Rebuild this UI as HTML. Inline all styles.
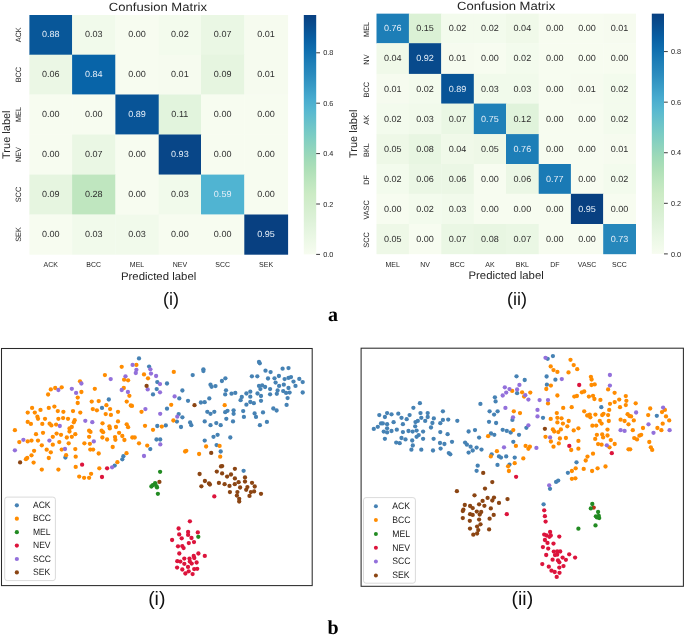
<!DOCTYPE html>
<html><head><meta charset="utf-8"><style>
html,body{margin:0;padding:0;background:#fff;overflow:hidden;}
svg{display:block;will-change:transform;} text{text-rendering:geometricPrecision;}
</style></head><body>
<svg width="685" height="635" viewBox="0 0 685 635" font-family='"Liberation Sans", sans-serif'>
<rect x="0" y="0" width="685" height="635" fill="#fff"/>
<defs>
<linearGradient id="cbL" x1="0" y1="1" x2="0" y2="0">
<stop offset="0.000" stop-color="#f7fcf0"/>
<stop offset="0.050" stop-color="#eef9e8"/>
<stop offset="0.100" stop-color="#e5f5e0"/>
<stop offset="0.150" stop-color="#dcf1d7"/>
<stop offset="0.200" stop-color="#d4eece"/>
<stop offset="0.250" stop-color="#ccebc5"/>
<stop offset="0.300" stop-color="#bee6bf"/>
<stop offset="0.350" stop-color="#afe0b8"/>
<stop offset="0.400" stop-color="#9fdab8"/>
<stop offset="0.450" stop-color="#8dd3be"/>
<stop offset="0.500" stop-color="#7accc4"/>
<stop offset="0.550" stop-color="#69c2ca"/>
<stop offset="0.600" stop-color="#57b8d0"/>
<stop offset="0.650" stop-color="#47abcf"/>
<stop offset="0.700" stop-color="#389bc6"/>
<stop offset="0.750" stop-color="#2a8bbe"/>
<stop offset="0.800" stop-color="#1d7eb7"/>
<stop offset="0.850" stop-color="#0f6faf"/>
<stop offset="0.900" stop-color="#085fa3"/>
<stop offset="0.950" stop-color="#084f91"/>
<stop offset="1.000" stop-color="#084081"/>
</linearGradient>
<linearGradient id="cbR" x1="0" y1="1" x2="0" y2="0">
<stop offset="0.000" stop-color="#f7fcf0"/>
<stop offset="0.050" stop-color="#eef9e8"/>
<stop offset="0.100" stop-color="#e5f5e0"/>
<stop offset="0.150" stop-color="#dcf1d7"/>
<stop offset="0.200" stop-color="#d4eece"/>
<stop offset="0.250" stop-color="#ccebc5"/>
<stop offset="0.300" stop-color="#bee6bf"/>
<stop offset="0.350" stop-color="#afe0b8"/>
<stop offset="0.400" stop-color="#9fdab8"/>
<stop offset="0.450" stop-color="#8dd3be"/>
<stop offset="0.500" stop-color="#7accc4"/>
<stop offset="0.550" stop-color="#69c2ca"/>
<stop offset="0.600" stop-color="#57b8d0"/>
<stop offset="0.650" stop-color="#47abcf"/>
<stop offset="0.700" stop-color="#389bc6"/>
<stop offset="0.750" stop-color="#2a8bbe"/>
<stop offset="0.800" stop-color="#1d7eb7"/>
<stop offset="0.850" stop-color="#0f6faf"/>
<stop offset="0.900" stop-color="#085fa3"/>
<stop offset="0.950" stop-color="#084f91"/>
<stop offset="1.000" stop-color="#084081"/>
</linearGradient>
</defs>
<rect x="29.40" y="15.00" width="43.00" height="40.00" fill="#085799"/>
<rect x="72.10" y="15.00" width="43.60" height="40.00" fill="#f1faeb"/>
<rect x="115.40" y="15.00" width="43.60" height="40.00" fill="#f7fcf0"/>
<rect x="158.70" y="15.00" width="42.60" height="40.00" fill="#f3fbed"/>
<rect x="201.00" y="15.00" width="43.60" height="40.00" fill="#eaf7e4"/>
<rect x="244.30" y="15.00" width="43.80" height="40.00" fill="#f6fbef"/>
<rect x="29.40" y="54.70" width="43.00" height="40.10" fill="#ebf7e5"/>
<rect x="72.10" y="54.70" width="43.60" height="40.10" fill="#0864a8"/>
<rect x="115.40" y="54.70" width="43.60" height="40.10" fill="#f7fcf0"/>
<rect x="158.70" y="54.70" width="42.60" height="40.10" fill="#f6fbef"/>
<rect x="201.00" y="54.70" width="43.60" height="40.10" fill="#e6f5e0"/>
<rect x="244.30" y="54.70" width="43.80" height="40.10" fill="#f6fbef"/>
<rect x="29.40" y="94.50" width="43.00" height="40.30" fill="#f7fcf0"/>
<rect x="72.10" y="94.50" width="43.60" height="40.30" fill="#f7fcf0"/>
<rect x="115.40" y="94.50" width="43.60" height="40.30" fill="#085497"/>
<rect x="158.70" y="94.50" width="42.60" height="40.30" fill="#e2f4dd"/>
<rect x="201.00" y="94.50" width="43.60" height="40.30" fill="#f7fcf0"/>
<rect x="244.30" y="94.50" width="43.80" height="40.30" fill="#f7fcf0"/>
<rect x="29.40" y="134.50" width="43.00" height="40.40" fill="#f7fcf0"/>
<rect x="72.10" y="134.50" width="43.60" height="40.40" fill="#eaf7e4"/>
<rect x="115.40" y="134.50" width="43.60" height="40.40" fill="#f7fcf0"/>
<rect x="158.70" y="134.50" width="42.60" height="40.40" fill="#084688"/>
<rect x="201.00" y="134.50" width="43.60" height="40.40" fill="#f7fcf0"/>
<rect x="244.30" y="134.50" width="43.80" height="40.40" fill="#f7fcf0"/>
<rect x="29.40" y="174.60" width="43.00" height="40.20" fill="#e6f5e0"/>
<rect x="72.10" y="174.60" width="43.60" height="40.20" fill="#bfe6bf"/>
<rect x="115.40" y="174.60" width="43.60" height="40.20" fill="#f7fcf0"/>
<rect x="158.70" y="174.60" width="42.60" height="40.20" fill="#f1faeb"/>
<rect x="201.00" y="174.60" width="43.60" height="40.20" fill="#50b4d2"/>
<rect x="244.30" y="174.60" width="43.80" height="40.20" fill="#f7fcf0"/>
<rect x="29.40" y="214.50" width="43.00" height="40.20" fill="#f7fcf0"/>
<rect x="72.10" y="214.50" width="43.60" height="40.20" fill="#f1faeb"/>
<rect x="115.40" y="214.50" width="43.60" height="40.20" fill="#f1faeb"/>
<rect x="158.70" y="214.50" width="42.60" height="40.20" fill="#f7fcf0"/>
<rect x="201.00" y="214.50" width="43.60" height="40.20" fill="#f7fcf0"/>
<rect x="244.30" y="214.50" width="43.80" height="40.20" fill="#084081"/>
<text transform="translate(50.75,37.25) scale(1.03,1)" fill="#e4eef8" font-size="8.8" text-anchor="middle">0.88</text>
<text transform="translate(93.75,37.25) scale(1.03,1)" fill="#2e2e2e" font-size="8.8" text-anchor="middle">0.03</text>
<text transform="translate(137.05,37.25) scale(1.03,1)" fill="#2e2e2e" font-size="8.8" text-anchor="middle">0.00</text>
<text transform="translate(179.85,37.25) scale(1.03,1)" fill="#2e2e2e" font-size="8.8" text-anchor="middle">0.02</text>
<text transform="translate(222.65,37.25) scale(1.03,1)" fill="#2e2e2e" font-size="8.8" text-anchor="middle">0.07</text>
<text transform="translate(266.05,37.25) scale(1.03,1)" fill="#2e2e2e" font-size="8.8" text-anchor="middle">0.01</text>
<text transform="translate(50.75,77.00) scale(1.03,1)" fill="#2e2e2e" font-size="8.8" text-anchor="middle">0.06</text>
<text transform="translate(93.75,77.00) scale(1.03,1)" fill="#e4eef8" font-size="8.8" text-anchor="middle">0.84</text>
<text transform="translate(137.05,77.00) scale(1.03,1)" fill="#2e2e2e" font-size="8.8" text-anchor="middle">0.00</text>
<text transform="translate(179.85,77.00) scale(1.03,1)" fill="#2e2e2e" font-size="8.8" text-anchor="middle">0.01</text>
<text transform="translate(222.65,77.00) scale(1.03,1)" fill="#2e2e2e" font-size="8.8" text-anchor="middle">0.09</text>
<text transform="translate(266.05,77.00) scale(1.03,1)" fill="#2e2e2e" font-size="8.8" text-anchor="middle">0.01</text>
<text transform="translate(50.75,116.90) scale(1.03,1)" fill="#2e2e2e" font-size="8.8" text-anchor="middle">0.00</text>
<text transform="translate(93.75,116.90) scale(1.03,1)" fill="#2e2e2e" font-size="8.8" text-anchor="middle">0.00</text>
<text transform="translate(137.05,116.90) scale(1.03,1)" fill="#e4eef8" font-size="8.8" text-anchor="middle">0.89</text>
<text transform="translate(179.85,116.90) scale(1.03,1)" fill="#2e2e2e" font-size="8.8" text-anchor="middle">0.11</text>
<text transform="translate(222.65,116.90) scale(1.03,1)" fill="#2e2e2e" font-size="8.8" text-anchor="middle">0.00</text>
<text transform="translate(266.05,116.90) scale(1.03,1)" fill="#2e2e2e" font-size="8.8" text-anchor="middle">0.00</text>
<text transform="translate(50.75,156.95) scale(1.03,1)" fill="#2e2e2e" font-size="8.8" text-anchor="middle">0.00</text>
<text transform="translate(93.75,156.95) scale(1.03,1)" fill="#2e2e2e" font-size="8.8" text-anchor="middle">0.07</text>
<text transform="translate(137.05,156.95) scale(1.03,1)" fill="#2e2e2e" font-size="8.8" text-anchor="middle">0.00</text>
<text transform="translate(179.85,156.95) scale(1.03,1)" fill="#e4eef8" font-size="8.8" text-anchor="middle">0.93</text>
<text transform="translate(222.65,156.95) scale(1.03,1)" fill="#2e2e2e" font-size="8.8" text-anchor="middle">0.00</text>
<text transform="translate(266.05,156.95) scale(1.03,1)" fill="#2e2e2e" font-size="8.8" text-anchor="middle">0.00</text>
<text transform="translate(50.75,196.95) scale(1.03,1)" fill="#2e2e2e" font-size="8.8" text-anchor="middle">0.09</text>
<text transform="translate(93.75,196.95) scale(1.03,1)" fill="#2e2e2e" font-size="8.8" text-anchor="middle">0.28</text>
<text transform="translate(137.05,196.95) scale(1.03,1)" fill="#2e2e2e" font-size="8.8" text-anchor="middle">0.00</text>
<text transform="translate(179.85,196.95) scale(1.03,1)" fill="#2e2e2e" font-size="8.8" text-anchor="middle">0.03</text>
<text transform="translate(222.65,196.95) scale(1.03,1)" fill="#e4eef8" font-size="8.8" text-anchor="middle">0.59</text>
<text transform="translate(266.05,196.95) scale(1.03,1)" fill="#2e2e2e" font-size="8.8" text-anchor="middle">0.00</text>
<text transform="translate(50.75,236.85) scale(1.03,1)" fill="#2e2e2e" font-size="8.8" text-anchor="middle">0.00</text>
<text transform="translate(93.75,236.85) scale(1.03,1)" fill="#2e2e2e" font-size="8.8" text-anchor="middle">0.03</text>
<text transform="translate(137.05,236.85) scale(1.03,1)" fill="#2e2e2e" font-size="8.8" text-anchor="middle">0.03</text>
<text transform="translate(179.85,236.85) scale(1.03,1)" fill="#2e2e2e" font-size="8.8" text-anchor="middle">0.00</text>
<text transform="translate(222.65,236.85) scale(1.03,1)" fill="#2e2e2e" font-size="8.8" text-anchor="middle">0.00</text>
<text transform="translate(266.05,236.85) scale(1.03,1)" fill="#e4eef8" font-size="8.8" text-anchor="middle">0.95</text>
<text transform="translate(157.90,11.0) scale(1.1,1)" fill="#262626" font-size="11.9" text-anchor="middle">Confusion Matrix</text>
<text transform="translate(50.75,266.8) scale(0.96,1)" fill="#262626" font-size="7.3" text-anchor="middle">ACK</text>
<text transform="translate(93.75,266.8) scale(0.96,1)" fill="#262626" font-size="7.3" text-anchor="middle">BCC</text>
<text transform="translate(137.05,266.8) scale(0.96,1)" fill="#262626" font-size="7.3" text-anchor="middle">MEL</text>
<text transform="translate(179.85,266.8) scale(0.96,1)" fill="#262626" font-size="7.3" text-anchor="middle">NEV</text>
<text transform="translate(222.65,266.8) scale(0.96,1)" fill="#262626" font-size="7.3" text-anchor="middle">SCC</text>
<text transform="translate(266.05,266.8) scale(0.96,1)" fill="#262626" font-size="7.3" text-anchor="middle">SEK</text>
<text transform="translate(21.0,34.85) rotate(-90) scale(0.95,1)" fill="#262626" font-size="7.7" text-anchor="middle">ACK</text>
<text transform="translate(21.0,74.60) rotate(-90) scale(0.95,1)" fill="#262626" font-size="7.7" text-anchor="middle">BCC</text>
<text transform="translate(21.0,114.50) rotate(-90) scale(0.95,1)" fill="#262626" font-size="7.7" text-anchor="middle">MEL</text>
<text transform="translate(21.0,154.55) rotate(-90) scale(0.95,1)" fill="#262626" font-size="7.7" text-anchor="middle">NEV</text>
<text transform="translate(21.0,194.55) rotate(-90) scale(0.95,1)" fill="#262626" font-size="7.7" text-anchor="middle">SCC</text>
<text transform="translate(21.0,234.45) rotate(-90) scale(0.95,1)" fill="#262626" font-size="7.7" text-anchor="middle">SEK</text>
<text transform="translate(158.60,279.5) scale(1.035,1)" fill="#262626" font-size="11.0" text-anchor="middle">Predicted label</text>
<text transform="translate(10.1,134.70) rotate(-90)" fill="#262626" font-size="11.0" text-anchor="middle">True label</text>
<rect x="303.8" y="15.0" width="12.399999999999977" height="239.4" fill="url(#cbL)"/>
<line x1="316.2" y1="254.40" x2="320.0" y2="254.40" stroke="#262626" stroke-width="0.9"/>
<text x="323.2" y="257.00" fill="#262626" font-size="7.3">0.0</text>
<line x1="316.2" y1="204.00" x2="320.0" y2="204.00" stroke="#262626" stroke-width="0.9"/>
<text x="323.2" y="206.60" fill="#262626" font-size="7.3">0.2</text>
<line x1="316.2" y1="153.60" x2="320.0" y2="153.60" stroke="#262626" stroke-width="0.9"/>
<text x="323.2" y="156.20" fill="#262626" font-size="7.3">0.4</text>
<line x1="316.2" y1="103.20" x2="320.0" y2="103.20" stroke="#262626" stroke-width="0.9"/>
<text x="323.2" y="105.80" fill="#262626" font-size="7.3">0.6</text>
<line x1="316.2" y1="52.80" x2="320.0" y2="52.80" stroke="#262626" stroke-width="0.9"/>
<text x="323.2" y="55.40" fill="#262626" font-size="7.3">0.8</text>
<rect x="376.50" y="13.65" width="32.70" height="29.85" fill="#1d7eb7"/>
<rect x="408.90" y="13.65" width="32.60" height="29.85" fill="#dbf1d5"/>
<rect x="441.20" y="13.65" width="32.90" height="29.85" fill="#f3fbed"/>
<rect x="473.80" y="13.65" width="32.50" height="29.85" fill="#f3fbed"/>
<rect x="506.00" y="13.65" width="33.00" height="29.85" fill="#f0f9e9"/>
<rect x="538.70" y="13.65" width="32.50" height="29.85" fill="#f7fcf0"/>
<rect x="570.90" y="13.65" width="32.60" height="29.85" fill="#f7fcf0"/>
<rect x="603.20" y="13.65" width="32.80" height="29.85" fill="#f6fbef"/>
<rect x="376.50" y="43.20" width="32.70" height="31.00" fill="#f0f9e9"/>
<rect x="408.90" y="43.20" width="32.60" height="31.00" fill="#084a8c"/>
<rect x="441.20" y="43.20" width="32.90" height="31.00" fill="#f6fbef"/>
<rect x="473.80" y="43.20" width="32.50" height="31.00" fill="#f7fcf0"/>
<rect x="506.00" y="43.20" width="33.00" height="31.00" fill="#f3fbed"/>
<rect x="538.70" y="43.20" width="32.50" height="31.00" fill="#f7fcf0"/>
<rect x="570.90" y="43.20" width="32.60" height="31.00" fill="#f7fcf0"/>
<rect x="603.20" y="43.20" width="32.80" height="31.00" fill="#f7fcf0"/>
<rect x="376.50" y="73.90" width="32.70" height="30.00" fill="#f6fbef"/>
<rect x="408.90" y="73.90" width="32.60" height="30.00" fill="#f3fbed"/>
<rect x="441.20" y="73.90" width="32.90" height="30.00" fill="#085497"/>
<rect x="473.80" y="73.90" width="32.50" height="30.00" fill="#f1faeb"/>
<rect x="506.00" y="73.90" width="33.00" height="30.00" fill="#f1faeb"/>
<rect x="538.70" y="73.90" width="32.50" height="30.00" fill="#f7fcf0"/>
<rect x="570.90" y="73.90" width="32.60" height="30.00" fill="#f6fbef"/>
<rect x="603.20" y="73.90" width="32.80" height="30.00" fill="#f3fbed"/>
<rect x="376.50" y="103.60" width="32.70" height="30.80" fill="#f3fbed"/>
<rect x="408.90" y="103.60" width="32.60" height="30.80" fill="#f1faeb"/>
<rect x="441.20" y="103.60" width="32.90" height="30.80" fill="#eaf7e4"/>
<rect x="473.80" y="103.60" width="32.50" height="30.80" fill="#1f80b8"/>
<rect x="506.00" y="103.60" width="33.00" height="30.80" fill="#e0f3db"/>
<rect x="538.70" y="103.60" width="32.50" height="30.80" fill="#f7fcf0"/>
<rect x="570.90" y="103.60" width="32.60" height="30.80" fill="#f7fcf0"/>
<rect x="603.20" y="103.60" width="32.80" height="30.80" fill="#f3fbed"/>
<rect x="376.50" y="134.10" width="32.70" height="30.20" fill="#eef8e7"/>
<rect x="408.90" y="134.10" width="32.60" height="30.20" fill="#e8f6e2"/>
<rect x="441.20" y="134.10" width="32.90" height="30.20" fill="#f0f9e9"/>
<rect x="473.80" y="134.10" width="32.50" height="30.20" fill="#eef8e7"/>
<rect x="506.00" y="134.10" width="33.00" height="30.20" fill="#1d7eb7"/>
<rect x="538.70" y="134.10" width="32.50" height="30.20" fill="#f7fcf0"/>
<rect x="570.90" y="134.10" width="32.60" height="30.20" fill="#f7fcf0"/>
<rect x="603.20" y="134.10" width="32.80" height="30.20" fill="#f6fbef"/>
<rect x="376.50" y="164.00" width="32.70" height="30.10" fill="#f3fbed"/>
<rect x="408.90" y="164.00" width="32.60" height="30.10" fill="#ebf7e5"/>
<rect x="441.20" y="164.00" width="32.90" height="30.10" fill="#ebf7e5"/>
<rect x="473.80" y="164.00" width="32.50" height="30.10" fill="#f7fcf0"/>
<rect x="506.00" y="164.00" width="33.00" height="30.10" fill="#ebf7e5"/>
<rect x="538.70" y="164.00" width="32.50" height="30.10" fill="#1a7ab5"/>
<rect x="570.90" y="164.00" width="32.60" height="30.10" fill="#f7fcf0"/>
<rect x="603.20" y="164.00" width="32.80" height="30.10" fill="#f3fbed"/>
<rect x="376.50" y="193.80" width="32.70" height="30.50" fill="#f7fcf0"/>
<rect x="408.90" y="193.80" width="32.60" height="30.50" fill="#f3fbed"/>
<rect x="441.20" y="193.80" width="32.90" height="30.50" fill="#f1faeb"/>
<rect x="473.80" y="193.80" width="32.50" height="30.50" fill="#f7fcf0"/>
<rect x="506.00" y="193.80" width="33.00" height="30.50" fill="#f7fcf0"/>
<rect x="538.70" y="193.80" width="32.50" height="30.50" fill="#f7fcf0"/>
<rect x="570.90" y="193.80" width="32.60" height="30.50" fill="#084081"/>
<rect x="603.20" y="193.80" width="32.80" height="30.50" fill="#f7fcf0"/>
<rect x="376.50" y="224.00" width="32.70" height="30.20" fill="#eef8e7"/>
<rect x="408.90" y="224.00" width="32.60" height="30.20" fill="#f7fcf0"/>
<rect x="441.20" y="224.00" width="32.90" height="30.20" fill="#eaf7e4"/>
<rect x="473.80" y="224.00" width="32.50" height="30.20" fill="#e8f6e2"/>
<rect x="506.00" y="224.00" width="33.00" height="30.20" fill="#eaf7e4"/>
<rect x="538.70" y="224.00" width="32.50" height="30.20" fill="#f7fcf0"/>
<rect x="570.90" y="224.00" width="32.60" height="30.20" fill="#f7fcf0"/>
<rect x="603.20" y="224.00" width="32.80" height="30.20" fill="#2687bb"/>
<text transform="translate(392.70,31.32) scale(1.03,1)" fill="#e4eef8" font-size="8.8" text-anchor="middle">0.76</text>
<text transform="translate(425.05,31.32) scale(1.03,1)" fill="#2e2e2e" font-size="8.8" text-anchor="middle">0.15</text>
<text transform="translate(457.50,31.32) scale(1.03,1)" fill="#2e2e2e" font-size="8.8" text-anchor="middle">0.02</text>
<text transform="translate(489.90,31.32) scale(1.03,1)" fill="#2e2e2e" font-size="8.8" text-anchor="middle">0.02</text>
<text transform="translate(522.35,31.32) scale(1.03,1)" fill="#2e2e2e" font-size="8.8" text-anchor="middle">0.04</text>
<text transform="translate(554.80,31.32) scale(1.03,1)" fill="#2e2e2e" font-size="8.8" text-anchor="middle">0.00</text>
<text transform="translate(587.05,31.32) scale(1.03,1)" fill="#2e2e2e" font-size="8.8" text-anchor="middle">0.00</text>
<text transform="translate(619.45,31.32) scale(1.03,1)" fill="#2e2e2e" font-size="8.8" text-anchor="middle">0.01</text>
<text transform="translate(392.70,61.45) scale(1.03,1)" fill="#2e2e2e" font-size="8.8" text-anchor="middle">0.04</text>
<text transform="translate(425.05,61.45) scale(1.03,1)" fill="#e4eef8" font-size="8.8" text-anchor="middle">0.92</text>
<text transform="translate(457.50,61.45) scale(1.03,1)" fill="#2e2e2e" font-size="8.8" text-anchor="middle">0.01</text>
<text transform="translate(489.90,61.45) scale(1.03,1)" fill="#2e2e2e" font-size="8.8" text-anchor="middle">0.00</text>
<text transform="translate(522.35,61.45) scale(1.03,1)" fill="#2e2e2e" font-size="8.8" text-anchor="middle">0.02</text>
<text transform="translate(554.80,61.45) scale(1.03,1)" fill="#2e2e2e" font-size="8.8" text-anchor="middle">0.00</text>
<text transform="translate(587.05,61.45) scale(1.03,1)" fill="#2e2e2e" font-size="8.8" text-anchor="middle">0.00</text>
<text transform="translate(619.45,61.45) scale(1.03,1)" fill="#2e2e2e" font-size="8.8" text-anchor="middle">0.00</text>
<text transform="translate(392.70,91.65) scale(1.03,1)" fill="#2e2e2e" font-size="8.8" text-anchor="middle">0.01</text>
<text transform="translate(425.05,91.65) scale(1.03,1)" fill="#2e2e2e" font-size="8.8" text-anchor="middle">0.02</text>
<text transform="translate(457.50,91.65) scale(1.03,1)" fill="#e4eef8" font-size="8.8" text-anchor="middle">0.89</text>
<text transform="translate(489.90,91.65) scale(1.03,1)" fill="#2e2e2e" font-size="8.8" text-anchor="middle">0.03</text>
<text transform="translate(522.35,91.65) scale(1.03,1)" fill="#2e2e2e" font-size="8.8" text-anchor="middle">0.03</text>
<text transform="translate(554.80,91.65) scale(1.03,1)" fill="#2e2e2e" font-size="8.8" text-anchor="middle">0.00</text>
<text transform="translate(587.05,91.65) scale(1.03,1)" fill="#2e2e2e" font-size="8.8" text-anchor="middle">0.01</text>
<text transform="translate(619.45,91.65) scale(1.03,1)" fill="#2e2e2e" font-size="8.8" text-anchor="middle">0.02</text>
<text transform="translate(392.70,121.75) scale(1.03,1)" fill="#2e2e2e" font-size="8.8" text-anchor="middle">0.02</text>
<text transform="translate(425.05,121.75) scale(1.03,1)" fill="#2e2e2e" font-size="8.8" text-anchor="middle">0.03</text>
<text transform="translate(457.50,121.75) scale(1.03,1)" fill="#2e2e2e" font-size="8.8" text-anchor="middle">0.07</text>
<text transform="translate(489.90,121.75) scale(1.03,1)" fill="#e4eef8" font-size="8.8" text-anchor="middle">0.75</text>
<text transform="translate(522.35,121.75) scale(1.03,1)" fill="#2e2e2e" font-size="8.8" text-anchor="middle">0.12</text>
<text transform="translate(554.80,121.75) scale(1.03,1)" fill="#2e2e2e" font-size="8.8" text-anchor="middle">0.00</text>
<text transform="translate(587.05,121.75) scale(1.03,1)" fill="#2e2e2e" font-size="8.8" text-anchor="middle">0.00</text>
<text transform="translate(619.45,121.75) scale(1.03,1)" fill="#2e2e2e" font-size="8.8" text-anchor="middle">0.02</text>
<text transform="translate(392.70,151.95) scale(1.03,1)" fill="#2e2e2e" font-size="8.8" text-anchor="middle">0.05</text>
<text transform="translate(425.05,151.95) scale(1.03,1)" fill="#2e2e2e" font-size="8.8" text-anchor="middle">0.08</text>
<text transform="translate(457.50,151.95) scale(1.03,1)" fill="#2e2e2e" font-size="8.8" text-anchor="middle">0.04</text>
<text transform="translate(489.90,151.95) scale(1.03,1)" fill="#2e2e2e" font-size="8.8" text-anchor="middle">0.05</text>
<text transform="translate(522.35,151.95) scale(1.03,1)" fill="#e4eef8" font-size="8.8" text-anchor="middle">0.76</text>
<text transform="translate(554.80,151.95) scale(1.03,1)" fill="#2e2e2e" font-size="8.8" text-anchor="middle">0.00</text>
<text transform="translate(587.05,151.95) scale(1.03,1)" fill="#2e2e2e" font-size="8.8" text-anchor="middle">0.00</text>
<text transform="translate(619.45,151.95) scale(1.03,1)" fill="#2e2e2e" font-size="8.8" text-anchor="middle">0.01</text>
<text transform="translate(392.70,181.80) scale(1.03,1)" fill="#2e2e2e" font-size="8.8" text-anchor="middle">0.02</text>
<text transform="translate(425.05,181.80) scale(1.03,1)" fill="#2e2e2e" font-size="8.8" text-anchor="middle">0.06</text>
<text transform="translate(457.50,181.80) scale(1.03,1)" fill="#2e2e2e" font-size="8.8" text-anchor="middle">0.06</text>
<text transform="translate(489.90,181.80) scale(1.03,1)" fill="#2e2e2e" font-size="8.8" text-anchor="middle">0.00</text>
<text transform="translate(522.35,181.80) scale(1.03,1)" fill="#2e2e2e" font-size="8.8" text-anchor="middle">0.06</text>
<text transform="translate(554.80,181.80) scale(1.03,1)" fill="#e4eef8" font-size="8.8" text-anchor="middle">0.77</text>
<text transform="translate(587.05,181.80) scale(1.03,1)" fill="#2e2e2e" font-size="8.8" text-anchor="middle">0.00</text>
<text transform="translate(619.45,181.80) scale(1.03,1)" fill="#2e2e2e" font-size="8.8" text-anchor="middle">0.02</text>
<text transform="translate(392.70,211.80) scale(1.03,1)" fill="#2e2e2e" font-size="8.8" text-anchor="middle">0.00</text>
<text transform="translate(425.05,211.80) scale(1.03,1)" fill="#2e2e2e" font-size="8.8" text-anchor="middle">0.02</text>
<text transform="translate(457.50,211.80) scale(1.03,1)" fill="#2e2e2e" font-size="8.8" text-anchor="middle">0.03</text>
<text transform="translate(489.90,211.80) scale(1.03,1)" fill="#2e2e2e" font-size="8.8" text-anchor="middle">0.00</text>
<text transform="translate(522.35,211.80) scale(1.03,1)" fill="#2e2e2e" font-size="8.8" text-anchor="middle">0.00</text>
<text transform="translate(554.80,211.80) scale(1.03,1)" fill="#2e2e2e" font-size="8.8" text-anchor="middle">0.00</text>
<text transform="translate(587.05,211.80) scale(1.03,1)" fill="#e4eef8" font-size="8.8" text-anchor="middle">0.95</text>
<text transform="translate(619.45,211.80) scale(1.03,1)" fill="#2e2e2e" font-size="8.8" text-anchor="middle">0.00</text>
<text transform="translate(392.70,241.85) scale(1.03,1)" fill="#2e2e2e" font-size="8.8" text-anchor="middle">0.05</text>
<text transform="translate(425.05,241.85) scale(1.03,1)" fill="#2e2e2e" font-size="8.8" text-anchor="middle">0.00</text>
<text transform="translate(457.50,241.85) scale(1.03,1)" fill="#2e2e2e" font-size="8.8" text-anchor="middle">0.07</text>
<text transform="translate(489.90,241.85) scale(1.03,1)" fill="#2e2e2e" font-size="8.8" text-anchor="middle">0.08</text>
<text transform="translate(522.35,241.85) scale(1.03,1)" fill="#2e2e2e" font-size="8.8" text-anchor="middle">0.07</text>
<text transform="translate(554.80,241.85) scale(1.03,1)" fill="#2e2e2e" font-size="8.8" text-anchor="middle">0.00</text>
<text transform="translate(587.05,241.85) scale(1.03,1)" fill="#2e2e2e" font-size="8.8" text-anchor="middle">0.00</text>
<text transform="translate(619.45,241.85) scale(1.03,1)" fill="#e4eef8" font-size="8.8" text-anchor="middle">0.73</text>
<text transform="translate(506.10,10.0) scale(1.1,1)" fill="#262626" font-size="11.9" text-anchor="middle">Confusion Matrix</text>
<text transform="translate(392.70,267.0) scale(0.96,1)" fill="#262626" font-size="7.3" text-anchor="middle">MEL</text>
<text transform="translate(425.05,267.0) scale(0.96,1)" fill="#262626" font-size="7.3" text-anchor="middle">NV</text>
<text transform="translate(457.50,267.0) scale(0.96,1)" fill="#262626" font-size="7.3" text-anchor="middle">BCC</text>
<text transform="translate(489.90,267.0) scale(0.96,1)" fill="#262626" font-size="7.3" text-anchor="middle">AK</text>
<text transform="translate(522.35,267.0) scale(0.96,1)" fill="#262626" font-size="7.3" text-anchor="middle">BKL</text>
<text transform="translate(554.80,267.0) scale(0.96,1)" fill="#262626" font-size="7.3" text-anchor="middle">DF</text>
<text transform="translate(587.05,267.0) scale(0.96,1)" fill="#262626" font-size="7.3" text-anchor="middle">VASC</text>
<text transform="translate(619.45,267.0) scale(0.96,1)" fill="#262626" font-size="7.3" text-anchor="middle">SCC</text>
<text transform="translate(369.2,29.43) rotate(-90) scale(0.95,1)" fill="#262626" font-size="7.7" text-anchor="middle">MEL</text>
<text transform="translate(369.2,59.55) rotate(-90) scale(0.95,1)" fill="#262626" font-size="7.7" text-anchor="middle">NV</text>
<text transform="translate(369.2,89.75) rotate(-90) scale(0.95,1)" fill="#262626" font-size="7.7" text-anchor="middle">BCC</text>
<text transform="translate(369.2,119.85) rotate(-90) scale(0.95,1)" fill="#262626" font-size="7.7" text-anchor="middle">AK</text>
<text transform="translate(369.2,150.05) rotate(-90) scale(0.95,1)" fill="#262626" font-size="7.7" text-anchor="middle">BKL</text>
<text transform="translate(369.2,179.90) rotate(-90) scale(0.95,1)" fill="#262626" font-size="7.7" text-anchor="middle">DF</text>
<text transform="translate(369.2,209.90) rotate(-90) scale(0.95,1)" fill="#262626" font-size="7.7" text-anchor="middle">VASC</text>
<text transform="translate(369.2,239.95) rotate(-90) scale(0.95,1)" fill="#262626" font-size="7.7" text-anchor="middle">SCC</text>
<text transform="translate(506.10,279.3) scale(1.035,1)" fill="#262626" font-size="11.0" text-anchor="middle">Predicted label</text>
<text transform="translate(357.0,133.78) rotate(-90)" fill="#262626" font-size="11.0" text-anchor="middle">True label</text>
<rect x="651.8" y="13.65" width="12.200000000000045" height="240.25" fill="url(#cbR)"/>
<line x1="664.0" y1="253.90" x2="667.8" y2="253.90" stroke="#262626" stroke-width="0.9"/>
<text x="671.0" y="256.50" fill="#262626" font-size="7.3">0.0</text>
<line x1="664.0" y1="203.32" x2="667.8" y2="203.32" stroke="#262626" stroke-width="0.9"/>
<text x="671.0" y="205.92" fill="#262626" font-size="7.3">0.2</text>
<line x1="664.0" y1="152.74" x2="667.8" y2="152.74" stroke="#262626" stroke-width="0.9"/>
<text x="671.0" y="155.34" fill="#262626" font-size="7.3">0.4</text>
<line x1="664.0" y1="102.16" x2="667.8" y2="102.16" stroke="#262626" stroke-width="0.9"/>
<text x="671.0" y="104.76" fill="#262626" font-size="7.3">0.6</text>
<line x1="664.0" y1="51.58" x2="667.8" y2="51.58" stroke="#262626" stroke-width="0.9"/>
<text x="671.0" y="54.18" fill="#262626" font-size="7.3">0.8</text>
<text x="171" y="305.3" fill="#111" font-size="18" text-anchor="middle">(i)</text>
<text x="517" y="305.3" fill="#111" font-size="18" text-anchor="middle">(ii)</text>
<text x="333" y="320.7" fill="#000" font-size="20" font-weight="bold" font-family="Liberation Serif, serif" text-anchor="middle">a</text>
<text x="156.8" y="605.0" fill="#111" font-size="19.5" text-anchor="middle">(i)</text>
<text x="522.3" y="605.0" fill="#111" font-size="19.5" text-anchor="middle">(ii)</text>
<text x="333" y="633.9" fill="#000" font-size="20" font-weight="bold" font-family="Liberation Serif, serif" text-anchor="middle">b</text>
<rect x="1.5" y="348.5" width="310.7" height="237.10000000000002" fill="none" stroke="#2a2a2a" stroke-width="1.05"/>
<circle cx="139.0" cy="358.4" r="2.15" fill="#4682b4"/>
<circle cx="149.1" cy="366.6" r="2.15" fill="#4682b4"/>
<circle cx="157.3" cy="382.1" r="2.15" fill="#4682b4"/>
<circle cx="156.7" cy="389.1" r="2.15" fill="#4682b4"/>
<circle cx="153.0" cy="394.4" r="2.15" fill="#4682b4"/>
<circle cx="108.8" cy="399.5" r="2.15" fill="#4682b4"/>
<circle cx="203.4" cy="369.3" r="2.15" fill="#4682b4"/>
<circle cx="203.4" cy="371.0" r="2.15" fill="#4682b4"/>
<circle cx="192.7" cy="375.1" r="2.15" fill="#4682b4"/>
<circle cx="167.0" cy="383.5" r="2.15" fill="#4682b4"/>
<circle cx="182.4" cy="390.5" r="2.15" fill="#4682b4"/>
<circle cx="179.3" cy="398.4" r="2.15" fill="#4682b4"/>
<circle cx="188.0" cy="400.8" r="2.15" fill="#4682b4"/>
<circle cx="210.5" cy="384.7" r="2.15" fill="#4682b4"/>
<circle cx="211.6" cy="386.8" r="2.15" fill="#4682b4"/>
<circle cx="215.5" cy="386.1" r="2.15" fill="#4682b4"/>
<circle cx="221.9" cy="381.0" r="2.15" fill="#4682b4"/>
<circle cx="225.4" cy="378.3" r="2.15" fill="#4682b4"/>
<circle cx="226.0" cy="390.3" r="2.15" fill="#4682b4"/>
<circle cx="225.2" cy="394.4" r="2.15" fill="#4682b4"/>
<circle cx="231.5" cy="393.7" r="2.15" fill="#4682b4"/>
<circle cx="235.3" cy="392.9" r="2.15" fill="#4682b4"/>
<circle cx="209.3" cy="398.4" r="2.15" fill="#4682b4"/>
<circle cx="200.9" cy="402.5" r="2.15" fill="#4682b4"/>
<circle cx="204.7" cy="402.2" r="2.15" fill="#4682b4"/>
<circle cx="240.6" cy="400.2" r="2.15" fill="#4682b4"/>
<circle cx="259.0" cy="361.9" r="2.15" fill="#4682b4"/>
<circle cx="259.8" cy="363.3" r="2.15" fill="#4682b4"/>
<circle cx="265.5" cy="370.7" r="2.15" fill="#4682b4"/>
<circle cx="270.6" cy="372.1" r="2.15" fill="#4682b4"/>
<circle cx="282.6" cy="368.7" r="2.15" fill="#4682b4"/>
<circle cx="288.5" cy="368.1" r="2.15" fill="#4682b4"/>
<circle cx="251.9" cy="376.3" r="2.15" fill="#4682b4"/>
<circle cx="257.3" cy="376.3" r="2.15" fill="#4682b4"/>
<circle cx="268.0" cy="378.5" r="2.15" fill="#4682b4"/>
<circle cx="274.5" cy="378.3" r="2.15" fill="#4682b4"/>
<circle cx="278.9" cy="376.0" r="2.15" fill="#4682b4"/>
<circle cx="284.6" cy="379.1" r="2.15" fill="#4682b4"/>
<circle cx="288.5" cy="377.9" r="2.15" fill="#4682b4"/>
<circle cx="291.0" cy="377.1" r="2.15" fill="#4682b4"/>
<circle cx="293.5" cy="381.6" r="2.15" fill="#4682b4"/>
<circle cx="299.3" cy="378.9" r="2.15" fill="#4682b4"/>
<circle cx="302.7" cy="382.1" r="2.15" fill="#4682b4"/>
<circle cx="295.5" cy="385.9" r="2.15" fill="#4682b4"/>
<circle cx="275.6" cy="382.6" r="2.15" fill="#4682b4"/>
<circle cx="279.1" cy="385.9" r="2.15" fill="#4682b4"/>
<circle cx="283.8" cy="384.7" r="2.15" fill="#4682b4"/>
<circle cx="288.5" cy="388.0" r="2.15" fill="#4682b4"/>
<circle cx="259.0" cy="385.9" r="2.15" fill="#4682b4"/>
<circle cx="262.2" cy="385.3" r="2.15" fill="#4682b4"/>
<circle cx="265.1" cy="387.0" r="2.15" fill="#4682b4"/>
<circle cx="260.4" cy="389.1" r="2.15" fill="#4682b4"/>
<circle cx="270.1" cy="389.1" r="2.15" fill="#4682b4"/>
<circle cx="277.6" cy="390.5" r="2.15" fill="#4682b4"/>
<circle cx="276.8" cy="393.8" r="2.15" fill="#4682b4"/>
<circle cx="283.2" cy="391.1" r="2.15" fill="#4682b4"/>
<circle cx="286.1" cy="392.9" r="2.15" fill="#4682b4"/>
<circle cx="289.6" cy="392.6" r="2.15" fill="#4682b4"/>
<circle cx="302.7" cy="392.5" r="2.15" fill="#4682b4"/>
<circle cx="270.1" cy="394.3" r="2.15" fill="#4682b4"/>
<circle cx="287.6" cy="398.1" r="2.15" fill="#4682b4"/>
<circle cx="250.3" cy="391.7" r="2.15" fill="#4682b4"/>
<circle cx="246.4" cy="393.5" r="2.15" fill="#4682b4"/>
<circle cx="257.5" cy="393.5" r="2.15" fill="#4682b4"/>
<circle cx="261.0" cy="396.0" r="2.15" fill="#4682b4"/>
<circle cx="250.3" cy="396.7" r="2.15" fill="#4682b4"/>
<circle cx="241.8" cy="397.0" r="2.15" fill="#4682b4"/>
<circle cx="261.0" cy="400.8" r="2.15" fill="#4682b4"/>
<circle cx="250.3" cy="402.0" r="2.15" fill="#4682b4"/>
<circle cx="253.8" cy="403.2" r="2.15" fill="#4682b4"/>
<circle cx="246.4" cy="404.7" r="2.15" fill="#4682b4"/>
<circle cx="286.6" cy="404.9" r="2.15" fill="#4682b4"/>
<circle cx="65.4" cy="457.5" r="2.15" fill="#4682b4"/>
<circle cx="102.0" cy="407.9" r="2.15" fill="#4682b4"/>
<circle cx="157.3" cy="426.0" r="2.15" fill="#4682b4"/>
<circle cx="156.5" cy="439.5" r="2.15" fill="#4682b4"/>
<circle cx="160.2" cy="439.5" r="2.15" fill="#4682b4"/>
<circle cx="150.3" cy="449.1" r="2.15" fill="#4682b4"/>
<circle cx="123.4" cy="456.2" r="2.15" fill="#4682b4"/>
<circle cx="122.3" cy="459.3" r="2.15" fill="#4682b4"/>
<circle cx="114.7" cy="465.6" r="2.15" fill="#4682b4"/>
<circle cx="167.0" cy="408.7" r="2.15" fill="#4682b4"/>
<circle cx="178.7" cy="414.1" r="2.15" fill="#4682b4"/>
<circle cx="182.4" cy="417.3" r="2.15" fill="#4682b4"/>
<circle cx="176.9" cy="421.6" r="2.15" fill="#4682b4"/>
<circle cx="165.8" cy="425.4" r="2.15" fill="#4682b4"/>
<circle cx="181.0" cy="427.0" r="2.15" fill="#4682b4"/>
<circle cx="190.1" cy="422.5" r="2.15" fill="#4682b4"/>
<circle cx="191.3" cy="425.2" r="2.15" fill="#4682b4"/>
<circle cx="207.3" cy="411.8" r="2.15" fill="#4682b4"/>
<circle cx="210.5" cy="413.8" r="2.15" fill="#4682b4"/>
<circle cx="214.3" cy="411.8" r="2.15" fill="#4682b4"/>
<circle cx="225.2" cy="412.2" r="2.15" fill="#4682b4"/>
<circle cx="227.5" cy="410.8" r="2.15" fill="#4682b4"/>
<circle cx="233.6" cy="410.3" r="2.15" fill="#4682b4"/>
<circle cx="233.6" cy="413.8" r="2.15" fill="#4682b4"/>
<circle cx="226.3" cy="418.8" r="2.15" fill="#4682b4"/>
<circle cx="233.0" cy="421.4" r="2.15" fill="#4682b4"/>
<circle cx="204.7" cy="421.4" r="2.15" fill="#4682b4"/>
<circle cx="210.5" cy="425.2" r="2.15" fill="#4682b4"/>
<circle cx="216.3" cy="423.1" r="2.15" fill="#4682b4"/>
<circle cx="220.7" cy="425.2" r="2.15" fill="#4682b4"/>
<circle cx="213.5" cy="436.8" r="2.15" fill="#4682b4"/>
<circle cx="217.6" cy="434.8" r="2.15" fill="#4682b4"/>
<circle cx="230.3" cy="437.5" r="2.15" fill="#4682b4"/>
<circle cx="204.7" cy="440.6" r="2.15" fill="#4682b4"/>
<circle cx="216.6" cy="445.1" r="2.15" fill="#4682b4"/>
<circle cx="220.7" cy="451.5" r="2.15" fill="#4682b4"/>
<circle cx="243.2" cy="411.1" r="2.15" fill="#4682b4"/>
<circle cx="243.9" cy="416.9" r="2.15" fill="#4682b4"/>
<circle cx="254.6" cy="413.4" r="2.15" fill="#4682b4"/>
<circle cx="256.0" cy="416.9" r="2.15" fill="#4682b4"/>
<circle cx="263.0" cy="412.4" r="2.15" fill="#4682b4"/>
<circle cx="273.3" cy="408.5" r="2.15" fill="#4682b4"/>
<circle cx="276.6" cy="410.5" r="2.15" fill="#4682b4"/>
<circle cx="266.9" cy="421.9" r="2.15" fill="#4682b4"/>
<circle cx="259.9" cy="425.2" r="2.15" fill="#4682b4"/>
<circle cx="243.6" cy="470.8" r="2.15" fill="#4682b4"/>
<circle cx="50.8" cy="389.4" r="2.15" fill="#ff8c00"/>
<circle cx="55.2" cy="388.0" r="2.15" fill="#ff8c00"/>
<circle cx="61.7" cy="387.3" r="2.15" fill="#ff8c00"/>
<circle cx="48.1" cy="394.5" r="2.15" fill="#ff8c00"/>
<circle cx="77.7" cy="397.6" r="2.15" fill="#ff8c00"/>
<circle cx="77.7" cy="403.0" r="2.15" fill="#ff8c00"/>
<circle cx="80.0" cy="381.3" r="2.15" fill="#ff8c00"/>
<circle cx="136.4" cy="364.9" r="2.15" fill="#ff8c00"/>
<circle cx="121.7" cy="366.8" r="2.15" fill="#ff8c00"/>
<circle cx="144.0" cy="374.4" r="2.15" fill="#ff8c00"/>
<circle cx="148.0" cy="378.3" r="2.15" fill="#ff8c00"/>
<circle cx="104.9" cy="375.1" r="2.15" fill="#ff8c00"/>
<circle cx="124.1" cy="379.7" r="2.15" fill="#ff8c00"/>
<circle cx="128.1" cy="380.3" r="2.15" fill="#ff8c00"/>
<circle cx="94.8" cy="388.8" r="2.15" fill="#ff8c00"/>
<circle cx="81.4" cy="392.0" r="2.15" fill="#ff8c00"/>
<circle cx="123.8" cy="388.0" r="2.15" fill="#ff8c00"/>
<circle cx="129.4" cy="395.8" r="2.15" fill="#ff8c00"/>
<circle cx="91.7" cy="401.6" r="2.15" fill="#ff8c00"/>
<circle cx="98.7" cy="401.1" r="2.15" fill="#ff8c00"/>
<circle cx="126.7" cy="401.6" r="2.15" fill="#ff8c00"/>
<circle cx="106.4" cy="405.2" r="2.15" fill="#ff8c00"/>
<circle cx="130.8" cy="405.5" r="2.15" fill="#ff8c00"/>
<circle cx="173.8" cy="371.9" r="2.15" fill="#ff8c00"/>
<circle cx="171.2" cy="404.8" r="2.15" fill="#ff8c00"/>
<circle cx="224.7" cy="405.2" r="2.15" fill="#ff8c00"/>
<circle cx="32.1" cy="407.9" r="2.15" fill="#ff8c00"/>
<circle cx="27.7" cy="412.6" r="2.15" fill="#ff8c00"/>
<circle cx="34.8" cy="412.6" r="2.15" fill="#ff8c00"/>
<circle cx="40.5" cy="409.9" r="2.15" fill="#ff8c00"/>
<circle cx="48.8" cy="407.9" r="2.15" fill="#ff8c00"/>
<circle cx="54.4" cy="406.6" r="2.15" fill="#ff8c00"/>
<circle cx="57.8" cy="411.1" r="2.15" fill="#ff8c00"/>
<circle cx="63.4" cy="411.8" r="2.15" fill="#ff8c00"/>
<circle cx="73.0" cy="411.1" r="2.15" fill="#ff8c00"/>
<circle cx="80.3" cy="412.6" r="2.15" fill="#ff8c00"/>
<circle cx="37.4" cy="416.7" r="2.15" fill="#ff8c00"/>
<circle cx="38.0" cy="418.8" r="2.15" fill="#ff8c00"/>
<circle cx="45.0" cy="418.8" r="2.15" fill="#ff8c00"/>
<circle cx="58.4" cy="418.8" r="2.15" fill="#ff8c00"/>
<circle cx="63.1" cy="418.1" r="2.15" fill="#ff8c00"/>
<circle cx="68.0" cy="418.8" r="2.15" fill="#ff8c00"/>
<circle cx="74.7" cy="420.2" r="2.15" fill="#ff8c00"/>
<circle cx="73.8" cy="422.3" r="2.15" fill="#ff8c00"/>
<circle cx="27.7" cy="421.9" r="2.15" fill="#ff8c00"/>
<circle cx="30.9" cy="423.9" r="2.15" fill="#ff8c00"/>
<circle cx="42.3" cy="423.9" r="2.15" fill="#ff8c00"/>
<circle cx="49.6" cy="423.7" r="2.15" fill="#ff8c00"/>
<circle cx="51.4" cy="425.4" r="2.15" fill="#ff8c00"/>
<circle cx="56.1" cy="424.6" r="2.15" fill="#ff8c00"/>
<circle cx="14.9" cy="430.2" r="2.15" fill="#ff8c00"/>
<circle cx="69.5" cy="428.4" r="2.15" fill="#ff8c00"/>
<circle cx="71.8" cy="427.0" r="2.15" fill="#ff8c00"/>
<circle cx="69.5" cy="431.6" r="2.15" fill="#ff8c00"/>
<circle cx="36.0" cy="434.2" r="2.15" fill="#ff8c00"/>
<circle cx="43.0" cy="432.8" r="2.15" fill="#ff8c00"/>
<circle cx="56.6" cy="433.6" r="2.15" fill="#ff8c00"/>
<circle cx="61.0" cy="434.8" r="2.15" fill="#ff8c00"/>
<circle cx="52.8" cy="436.8" r="2.15" fill="#ff8c00"/>
<circle cx="66.8" cy="437.5" r="2.15" fill="#ff8c00"/>
<circle cx="71.8" cy="436.8" r="2.15" fill="#ff8c00"/>
<circle cx="75.3" cy="434.2" r="2.15" fill="#ff8c00"/>
<circle cx="19.3" cy="442.1" r="2.15" fill="#ff8c00"/>
<circle cx="27.7" cy="441.4" r="2.15" fill="#ff8c00"/>
<circle cx="31.5" cy="440.6" r="2.15" fill="#ff8c00"/>
<circle cx="38.0" cy="440.6" r="2.15" fill="#ff8c00"/>
<circle cx="59.3" cy="442.1" r="2.15" fill="#ff8c00"/>
<circle cx="68.7" cy="443.3" r="2.15" fill="#ff8c00"/>
<circle cx="52.8" cy="444.7" r="2.15" fill="#ff8c00"/>
<circle cx="41.8" cy="445.3" r="2.15" fill="#ff8c00"/>
<circle cx="34.1" cy="450.8" r="2.15" fill="#ff8c00"/>
<circle cx="46.7" cy="449.7" r="2.15" fill="#ff8c00"/>
<circle cx="50.8" cy="452.3" r="2.15" fill="#ff8c00"/>
<circle cx="61.7" cy="449.6" r="2.15" fill="#ff8c00"/>
<circle cx="75.3" cy="449.1" r="2.15" fill="#ff8c00"/>
<circle cx="31.5" cy="455.3" r="2.15" fill="#ff8c00"/>
<circle cx="27.2" cy="458.0" r="2.15" fill="#ff8c00"/>
<circle cx="25.9" cy="459.2" r="2.15" fill="#ff8c00"/>
<circle cx="48.8" cy="458.0" r="2.15" fill="#ff8c00"/>
<circle cx="66.1" cy="455.2" r="2.15" fill="#ff8c00"/>
<circle cx="75.7" cy="456.7" r="2.15" fill="#ff8c00"/>
<circle cx="33.6" cy="462.6" r="2.15" fill="#ff8c00"/>
<circle cx="92.8" cy="409.1" r="2.15" fill="#ff8c00"/>
<circle cx="96.9" cy="410.3" r="2.15" fill="#ff8c00"/>
<circle cx="110.1" cy="409.1" r="2.15" fill="#ff8c00"/>
<circle cx="105.7" cy="414.1" r="2.15" fill="#ff8c00"/>
<circle cx="110.9" cy="414.9" r="2.15" fill="#ff8c00"/>
<circle cx="118.0" cy="411.8" r="2.15" fill="#ff8c00"/>
<circle cx="132.0" cy="405.9" r="2.15" fill="#ff8c00"/>
<circle cx="141.5" cy="411.8" r="2.15" fill="#ff8c00"/>
<circle cx="102.5" cy="423.3" r="2.15" fill="#ff8c00"/>
<circle cx="118.0" cy="421.4" r="2.15" fill="#ff8c00"/>
<circle cx="109.4" cy="426.3" r="2.15" fill="#ff8c00"/>
<circle cx="109.8" cy="428.4" r="2.15" fill="#ff8c00"/>
<circle cx="116.0" cy="427.0" r="2.15" fill="#ff8c00"/>
<circle cx="126.7" cy="424.3" r="2.15" fill="#ff8c00"/>
<circle cx="128.1" cy="427.2" r="2.15" fill="#ff8c00"/>
<circle cx="145.0" cy="425.8" r="2.15" fill="#ff8c00"/>
<circle cx="153.0" cy="429.8" r="2.15" fill="#ff8c00"/>
<circle cx="89.1" cy="430.7" r="2.15" fill="#ff8c00"/>
<circle cx="90.5" cy="431.9" r="2.15" fill="#ff8c00"/>
<circle cx="101.6" cy="430.7" r="2.15" fill="#ff8c00"/>
<circle cx="103.1" cy="432.2" r="2.15" fill="#ff8c00"/>
<circle cx="119.1" cy="432.8" r="2.15" fill="#ff8c00"/>
<circle cx="89.1" cy="436.8" r="2.15" fill="#ff8c00"/>
<circle cx="102.4" cy="437.5" r="2.15" fill="#ff8c00"/>
<circle cx="107.1" cy="439.5" r="2.15" fill="#ff8c00"/>
<circle cx="115.0" cy="437.1" r="2.15" fill="#ff8c00"/>
<circle cx="115.4" cy="439.8" r="2.15" fill="#ff8c00"/>
<circle cx="122.3" cy="436.0" r="2.15" fill="#ff8c00"/>
<circle cx="124.4" cy="440.0" r="2.15" fill="#ff8c00"/>
<circle cx="132.3" cy="437.5" r="2.15" fill="#ff8c00"/>
<circle cx="134.7" cy="437.5" r="2.15" fill="#ff8c00"/>
<circle cx="84.4" cy="443.3" r="2.15" fill="#ff8c00"/>
<circle cx="89.9" cy="443.8" r="2.15" fill="#ff8c00"/>
<circle cx="139.0" cy="443.3" r="2.15" fill="#ff8c00"/>
<circle cx="147.2" cy="445.6" r="2.15" fill="#ff8c00"/>
<circle cx="90.3" cy="449.6" r="2.15" fill="#ff8c00"/>
<circle cx="93.1" cy="449.6" r="2.15" fill="#ff8c00"/>
<circle cx="112.7" cy="447.0" r="2.15" fill="#ff8c00"/>
<circle cx="98.7" cy="453.5" r="2.15" fill="#ff8c00"/>
<circle cx="126.5" cy="453.2" r="2.15" fill="#ff8c00"/>
<circle cx="117.4" cy="462.2" r="2.15" fill="#ff8c00"/>
<circle cx="173.4" cy="420.5" r="2.15" fill="#ff8c00"/>
<circle cx="161.8" cy="426.6" r="2.15" fill="#ff8c00"/>
<circle cx="219.6" cy="445.9" r="2.15" fill="#ff8c00"/>
<circle cx="206.1" cy="446.5" r="2.15" fill="#ff8c00"/>
<circle cx="185.1" cy="451.5" r="2.15" fill="#ff8c00"/>
<circle cx="186.3" cy="450.8" r="2.15" fill="#ff8c00"/>
<circle cx="199.1" cy="454.0" r="2.15" fill="#ff8c00"/>
<circle cx="220.2" cy="456.7" r="2.15" fill="#ff8c00"/>
<circle cx="41.8" cy="469.6" r="2.15" fill="#ff8c00"/>
<circle cx="58.4" cy="469.6" r="2.15" fill="#ff8c00"/>
<circle cx="75.7" cy="466.9" r="2.15" fill="#ff8c00"/>
<circle cx="79.2" cy="476.6" r="2.15" fill="#ff8c00"/>
<circle cx="99.3" cy="468.3" r="2.15" fill="#ff8c00"/>
<circle cx="91.1" cy="473.8" r="2.15" fill="#ff8c00"/>
<circle cx="84.1" cy="477.8" r="2.15" fill="#ff8c00"/>
<circle cx="89.1" cy="477.8" r="2.15" fill="#ff8c00"/>
<circle cx="160.1" cy="471.8" r="2.15" fill="#228b22"/>
<circle cx="151.4" cy="486.5" r="2.15" fill="#228b22"/>
<circle cx="155.1" cy="483.2" r="2.15" fill="#228b22"/>
<circle cx="156.4" cy="486.1" r="2.15" fill="#228b22"/>
<circle cx="157.9" cy="493.8" r="2.15" fill="#228b22"/>
<circle cx="157.0" cy="487.4" r="2.15" fill="#228b22"/>
<circle cx="152.8" cy="485.2" r="2.15" fill="#228b22"/>
<circle cx="198.3" cy="536.8" r="2.15" fill="#228b22"/>
<circle cx="82.1" cy="464.7" r="2.15" fill="#dc143c"/>
<circle cx="107.1" cy="468.3" r="2.15" fill="#dc143c"/>
<circle cx="102.0" cy="477.0" r="2.15" fill="#dc143c"/>
<circle cx="214.3" cy="496.4" r="2.15" fill="#dc143c"/>
<circle cx="189.9" cy="521.3" r="2.15" fill="#dc143c"/>
<circle cx="178.6" cy="528.5" r="2.15" fill="#dc143c"/>
<circle cx="188.1" cy="531.9" r="2.15" fill="#dc143c"/>
<circle cx="188.1" cy="534.9" r="2.15" fill="#dc143c"/>
<circle cx="197.8" cy="532.4" r="2.15" fill="#dc143c"/>
<circle cx="179.2" cy="534.4" r="2.15" fill="#dc143c"/>
<circle cx="181.7" cy="538.3" r="2.15" fill="#dc143c"/>
<circle cx="191.5" cy="538.0" r="2.15" fill="#dc143c"/>
<circle cx="172.1" cy="540.0" r="2.15" fill="#dc143c"/>
<circle cx="194.0" cy="542.1" r="2.15" fill="#dc143c"/>
<circle cx="188.8" cy="543.1" r="2.15" fill="#dc143c"/>
<circle cx="178.0" cy="546.3" r="2.15" fill="#dc143c"/>
<circle cx="182.3" cy="546.1" r="2.15" fill="#dc143c"/>
<circle cx="183.6" cy="548.1" r="2.15" fill="#dc143c"/>
<circle cx="179.3" cy="553.5" r="2.15" fill="#dc143c"/>
<circle cx="198.4" cy="553.5" r="2.15" fill="#dc143c"/>
<circle cx="204.8" cy="555.9" r="2.15" fill="#dc143c"/>
<circle cx="193.7" cy="556.0" r="2.15" fill="#dc143c"/>
<circle cx="194.3" cy="558.0" r="2.15" fill="#dc143c"/>
<circle cx="184.3" cy="558.6" r="2.15" fill="#dc143c"/>
<circle cx="189.5" cy="558.6" r="2.15" fill="#dc143c"/>
<circle cx="177.3" cy="561.2" r="2.15" fill="#dc143c"/>
<circle cx="180.3" cy="561.6" r="2.15" fill="#dc143c"/>
<circle cx="189.8" cy="561.5" r="2.15" fill="#dc143c"/>
<circle cx="191.7" cy="563.6" r="2.15" fill="#dc143c"/>
<circle cx="196.6" cy="562.5" r="2.15" fill="#dc143c"/>
<circle cx="184.3" cy="563.8" r="2.15" fill="#dc143c"/>
<circle cx="188.0" cy="566.9" r="2.15" fill="#dc143c"/>
<circle cx="177.1" cy="567.6" r="2.15" fill="#dc143c"/>
<circle cx="182.3" cy="569.5" r="2.15" fill="#dc143c"/>
<circle cx="194.2" cy="569.1" r="2.15" fill="#dc143c"/>
<circle cx="197.2" cy="568.8" r="2.15" fill="#dc143c"/>
<circle cx="188.7" cy="571.3" r="2.15" fill="#dc143c"/>
<circle cx="185.4" cy="573.5" r="2.15" fill="#dc143c"/>
<circle cx="192.6" cy="574.1" r="2.15" fill="#dc143c"/>
<circle cx="58.4" cy="390.0" r="2.15" fill="#9370db"/>
<circle cx="71.8" cy="388.8" r="2.15" fill="#9370db"/>
<circle cx="76.1" cy="392.9" r="2.15" fill="#9370db"/>
<circle cx="132.6" cy="364.9" r="2.15" fill="#9370db"/>
<circle cx="136.4" cy="369.8" r="2.15" fill="#9370db"/>
<circle cx="135.8" cy="373.0" r="2.15" fill="#9370db"/>
<circle cx="150.4" cy="369.3" r="2.15" fill="#9370db"/>
<circle cx="151.0" cy="373.6" r="2.15" fill="#9370db"/>
<circle cx="156.1" cy="376.0" r="2.15" fill="#9370db"/>
<circle cx="110.7" cy="379.1" r="2.15" fill="#9370db"/>
<circle cx="125.5" cy="376.3" r="2.15" fill="#9370db"/>
<circle cx="81.4" cy="383.5" r="2.15" fill="#9370db"/>
<circle cx="121.7" cy="390.0" r="2.15" fill="#9370db"/>
<circle cx="127.9" cy="392.0" r="2.15" fill="#9370db"/>
<circle cx="147.7" cy="389.4" r="2.15" fill="#9370db"/>
<circle cx="160.0" cy="384.1" r="2.15" fill="#9370db"/>
<circle cx="160.0" cy="392.3" r="2.15" fill="#9370db"/>
<circle cx="174.6" cy="396.4" r="2.15" fill="#9370db"/>
<circle cx="59.8" cy="426.0" r="2.15" fill="#9370db"/>
<circle cx="23.4" cy="439.8" r="2.15" fill="#9370db"/>
<circle cx="49.4" cy="440.6" r="2.15" fill="#9370db"/>
<circle cx="14.9" cy="450.3" r="2.15" fill="#9370db"/>
<circle cx="65.0" cy="449.0" r="2.15" fill="#9370db"/>
<circle cx="145.4" cy="409.1" r="2.15" fill="#9370db"/>
<circle cx="160.2" cy="413.8" r="2.15" fill="#9370db"/>
<circle cx="85.3" cy="420.8" r="2.15" fill="#9370db"/>
<circle cx="92.3" cy="422.2" r="2.15" fill="#9370db"/>
<circle cx="160.3" cy="444.4" r="2.15" fill="#9370db"/>
<circle cx="93.8" cy="441.4" r="2.15" fill="#9370db"/>
<circle cx="144.0" cy="456.0" r="2.15" fill="#9370db"/>
<circle cx="177.3" cy="416.7" r="2.15" fill="#9370db"/>
<circle cx="112.1" cy="467.3" r="2.15" fill="#9370db"/>
<circle cx="146.6" cy="385.9" r="2.15" fill="#8b4513"/>
<circle cx="194.5" cy="405.2" r="2.15" fill="#8b4513"/>
<circle cx="20.1" cy="462.4" r="2.15" fill="#8b4513"/>
<circle cx="211.2" cy="452.9" r="2.15" fill="#8b4513"/>
<circle cx="221.0" cy="466.4" r="2.15" fill="#8b4513"/>
<circle cx="159.4" cy="481.9" r="2.15" fill="#8b4513"/>
<circle cx="199.6" cy="474.0" r="2.15" fill="#8b4513"/>
<circle cx="204.9" cy="481.0" r="2.15" fill="#8b4513"/>
<circle cx="209.0" cy="483.4" r="2.15" fill="#8b4513"/>
<circle cx="209.9" cy="484.5" r="2.15" fill="#8b4513"/>
<circle cx="201.4" cy="486.3" r="2.15" fill="#8b4513"/>
<circle cx="216.8" cy="471.6" r="2.15" fill="#8b4513"/>
<circle cx="222.2" cy="466.1" r="2.15" fill="#8b4513"/>
<circle cx="222.1" cy="473.4" r="2.15" fill="#8b4513"/>
<circle cx="227.1" cy="476.6" r="2.15" fill="#8b4513"/>
<circle cx="218.9" cy="482.9" r="2.15" fill="#8b4513"/>
<circle cx="224.6" cy="484.2" r="2.15" fill="#8b4513"/>
<circle cx="229.5" cy="485.9" r="2.15" fill="#8b4513"/>
<circle cx="229.9" cy="492.1" r="2.15" fill="#8b4513"/>
<circle cx="234.9" cy="468.8" r="2.15" fill="#8b4513"/>
<circle cx="231.0" cy="474.5" r="2.15" fill="#8b4513"/>
<circle cx="234.9" cy="478.4" r="2.15" fill="#8b4513"/>
<circle cx="245.0" cy="477.5" r="2.15" fill="#8b4513"/>
<circle cx="245.0" cy="481.6" r="2.15" fill="#8b4513"/>
<circle cx="234.8" cy="484.2" r="2.15" fill="#8b4513"/>
<circle cx="238.6" cy="482.2" r="2.15" fill="#8b4513"/>
<circle cx="240.1" cy="487.5" r="2.15" fill="#8b4513"/>
<circle cx="252.0" cy="482.8" r="2.15" fill="#8b4513"/>
<circle cx="254.7" cy="486.5" r="2.15" fill="#8b4513"/>
<circle cx="247.4" cy="487.1" r="2.15" fill="#8b4513"/>
<circle cx="246.2" cy="489.8" r="2.15" fill="#8b4513"/>
<circle cx="237.4" cy="492.1" r="2.15" fill="#8b4513"/>
<circle cx="250.9" cy="492.1" r="2.15" fill="#8b4513"/>
<circle cx="254.1" cy="491.4" r="2.15" fill="#8b4513"/>
<circle cx="261.0" cy="493.8" r="2.15" fill="#8b4513"/>
<circle cx="236.9" cy="495.6" r="2.15" fill="#8b4513"/>
<circle cx="249.5" cy="495.9" r="2.15" fill="#8b4513"/>
<circle cx="239.2" cy="498.8" r="2.15" fill="#8b4513"/>
<circle cx="239.2" cy="501.5" r="2.15" fill="#8b4513"/>
<rect x="4.7" y="497.1" width="50.699999999999996" height="83.5" rx="2.5" fill="#fff" fill-opacity="0.8" stroke="#d0d0d0" stroke-width="0.8"/>
<circle cx="16.85" cy="505.30" r="2.1" fill="#4682b4"/>
<text transform="translate(33.0,508.05) scale(0.93,1)" fill="#1a1a1a" font-size="9.2">ACK</text>
<circle cx="16.85" cy="518.72" r="2.1" fill="#ff8c00"/>
<text transform="translate(33.0,521.47) scale(0.93,1)" fill="#1a1a1a" font-size="9.2">BCC</text>
<circle cx="16.85" cy="532.14" r="2.1" fill="#228b22"/>
<text transform="translate(33.0,534.89) scale(0.93,1)" fill="#1a1a1a" font-size="9.2">MEL</text>
<circle cx="16.85" cy="545.56" r="2.1" fill="#dc143c"/>
<text transform="translate(33.0,548.31) scale(0.93,1)" fill="#1a1a1a" font-size="9.2">NEV</text>
<circle cx="16.85" cy="558.98" r="2.1" fill="#9370db"/>
<text transform="translate(33.0,561.73) scale(0.93,1)" fill="#1a1a1a" font-size="9.2">SCC</text>
<circle cx="16.85" cy="572.40" r="2.1" fill="#8b4513"/>
<text transform="translate(33.0,575.15) scale(0.93,1)" fill="#1a1a1a" font-size="9.2">SEK</text>
<rect x="361.1" y="348.2" width="322.29999999999995" height="238.09999999999997" fill="none" stroke="#2a2a2a" stroke-width="1.05"/>
<circle cx="593.7" cy="507.6" r="2.15" fill="#b8321a"/>
<circle cx="419.9" cy="403.2" r="2.15" fill="#4682b4"/>
<circle cx="413.4" cy="407.8" r="2.15" fill="#4682b4"/>
<circle cx="379.3" cy="415.1" r="2.15" fill="#4682b4"/>
<circle cx="387.1" cy="413.1" r="2.15" fill="#4682b4"/>
<circle cx="384.9" cy="417.0" r="2.15" fill="#4682b4"/>
<circle cx="391.5" cy="414.3" r="2.15" fill="#4682b4"/>
<circle cx="398.3" cy="413.7" r="2.15" fill="#4682b4"/>
<circle cx="401.5" cy="417.8" r="2.15" fill="#4682b4"/>
<circle cx="406.7" cy="419.2" r="2.15" fill="#4682b4"/>
<circle cx="409.6" cy="415.1" r="2.15" fill="#4682b4"/>
<circle cx="420.5" cy="413.1" r="2.15" fill="#4682b4"/>
<circle cx="421.3" cy="417.8" r="2.15" fill="#4682b4"/>
<circle cx="427.7" cy="413.1" r="2.15" fill="#4682b4"/>
<circle cx="427.7" cy="417.0" r="2.15" fill="#4682b4"/>
<circle cx="433.8" cy="418.4" r="2.15" fill="#4682b4"/>
<circle cx="415.5" cy="422.1" r="2.15" fill="#4682b4"/>
<circle cx="417.8" cy="420.9" r="2.15" fill="#4682b4"/>
<circle cx="425.2" cy="420.9" r="2.15" fill="#4682b4"/>
<circle cx="432.4" cy="423.0" r="2.15" fill="#4682b4"/>
<circle cx="440.3" cy="423.2" r="2.15" fill="#4682b4"/>
<circle cx="373.8" cy="428.9" r="2.15" fill="#4682b4"/>
<circle cx="377.8" cy="426.8" r="2.15" fill="#4682b4"/>
<circle cx="381.0" cy="423.4" r="2.15" fill="#4682b4"/>
<circle cx="382.8" cy="423.4" r="2.15" fill="#4682b4"/>
<circle cx="387.1" cy="424.2" r="2.15" fill="#4682b4"/>
<circle cx="387.1" cy="428.3" r="2.15" fill="#4682b4"/>
<circle cx="393.6" cy="422.2" r="2.15" fill="#4682b4"/>
<circle cx="402.9" cy="424.2" r="2.15" fill="#4682b4"/>
<circle cx="415.2" cy="426.3" r="2.15" fill="#4682b4"/>
<circle cx="431.0" cy="427.5" r="2.15" fill="#4682b4"/>
<circle cx="383.7" cy="431.6" r="2.15" fill="#4682b4"/>
<circle cx="387.1" cy="432.4" r="2.15" fill="#4682b4"/>
<circle cx="391.5" cy="431.0" r="2.15" fill="#4682b4"/>
<circle cx="396.8" cy="429.7" r="2.15" fill="#4682b4"/>
<circle cx="402.9" cy="432.1" r="2.15" fill="#4682b4"/>
<circle cx="408.5" cy="431.0" r="2.15" fill="#4682b4"/>
<circle cx="412.6" cy="431.6" r="2.15" fill="#4682b4"/>
<circle cx="416.6" cy="430.6" r="2.15" fill="#4682b4"/>
<circle cx="423.1" cy="431.6" r="2.15" fill="#4682b4"/>
<circle cx="440.3" cy="432.1" r="2.15" fill="#4682b4"/>
<circle cx="384.9" cy="438.8" r="2.15" fill="#4682b4"/>
<circle cx="401.5" cy="438.0" r="2.15" fill="#4682b4"/>
<circle cx="405.5" cy="439.4" r="2.15" fill="#4682b4"/>
<circle cx="416.6" cy="436.8" r="2.15" fill="#4682b4"/>
<circle cx="418.7" cy="435.1" r="2.15" fill="#4682b4"/>
<circle cx="423.1" cy="438.8" r="2.15" fill="#4682b4"/>
<circle cx="433.6" cy="438.8" r="2.15" fill="#4682b4"/>
<circle cx="396.2" cy="442.6" r="2.15" fill="#4682b4"/>
<circle cx="399.7" cy="443.2" r="2.15" fill="#4682b4"/>
<circle cx="412.2" cy="440.5" r="2.15" fill="#4682b4"/>
<circle cx="412.8" cy="445.5" r="2.15" fill="#4682b4"/>
<circle cx="440.0" cy="443.0" r="2.15" fill="#4682b4"/>
<circle cx="411.4" cy="449.7" r="2.15" fill="#4682b4"/>
<circle cx="421.3" cy="449.7" r="2.15" fill="#4682b4"/>
<circle cx="433.0" cy="450.5" r="2.15" fill="#4682b4"/>
<circle cx="440.6" cy="448.6" r="2.15" fill="#4682b4"/>
<circle cx="516.5" cy="376.3" r="2.15" fill="#4682b4"/>
<circle cx="517.1" cy="393.2" r="2.15" fill="#4682b4"/>
<circle cx="494.9" cy="397.3" r="2.15" fill="#4682b4"/>
<circle cx="495.6" cy="401.4" r="2.15" fill="#4682b4"/>
<circle cx="480.4" cy="403.9" r="2.15" fill="#4682b4"/>
<circle cx="547.7" cy="358.8" r="2.15" fill="#4682b4"/>
<circle cx="552.9" cy="356.1" r="2.15" fill="#4682b4"/>
<circle cx="546.6" cy="376.5" r="2.15" fill="#4682b4"/>
<circle cx="524.7" cy="380.0" r="2.15" fill="#4682b4"/>
<circle cx="555.4" cy="379.7" r="2.15" fill="#4682b4"/>
<circle cx="546.9" cy="384.7" r="2.15" fill="#4682b4"/>
<circle cx="442.9" cy="411.3" r="2.15" fill="#4682b4"/>
<circle cx="489.6" cy="411.3" r="2.15" fill="#4682b4"/>
<circle cx="497.6" cy="411.3" r="2.15" fill="#4682b4"/>
<circle cx="494.1" cy="414.6" r="2.15" fill="#4682b4"/>
<circle cx="512.4" cy="419.9" r="2.15" fill="#4682b4"/>
<circle cx="442.9" cy="419.9" r="2.15" fill="#4682b4"/>
<circle cx="448.2" cy="419.6" r="2.15" fill="#4682b4"/>
<circle cx="457.3" cy="420.8" r="2.15" fill="#4682b4"/>
<circle cx="489.0" cy="421.8" r="2.15" fill="#4682b4"/>
<circle cx="496.1" cy="423.0" r="2.15" fill="#4682b4"/>
<circle cx="447.6" cy="434.2" r="2.15" fill="#4682b4"/>
<circle cx="468.6" cy="431.5" r="2.15" fill="#4682b4"/>
<circle cx="475.0" cy="430.1" r="2.15" fill="#4682b4"/>
<circle cx="479.1" cy="437.6" r="2.15" fill="#4682b4"/>
<circle cx="491.0" cy="433.5" r="2.15" fill="#4682b4"/>
<circle cx="494.3" cy="434.8" r="2.15" fill="#4682b4"/>
<circle cx="502.7" cy="429.8" r="2.15" fill="#4682b4"/>
<circle cx="506.8" cy="430.9" r="2.15" fill="#4682b4"/>
<circle cx="510.7" cy="432.5" r="2.15" fill="#4682b4"/>
<circle cx="519.0" cy="434.8" r="2.15" fill="#4682b4"/>
<circle cx="444.4" cy="444.0" r="2.15" fill="#4682b4"/>
<circle cx="452.0" cy="441.8" r="2.15" fill="#4682b4"/>
<circle cx="448.8" cy="453.1" r="2.15" fill="#4682b4"/>
<circle cx="450.3" cy="454.3" r="2.15" fill="#4682b4"/>
<circle cx="465.1" cy="442.6" r="2.15" fill="#4682b4"/>
<circle cx="466.9" cy="444.7" r="2.15" fill="#4682b4"/>
<circle cx="470.6" cy="446.7" r="2.15" fill="#4682b4"/>
<circle cx="476.6" cy="447.6" r="2.15" fill="#4682b4"/>
<circle cx="481.5" cy="449.6" r="2.15" fill="#4682b4"/>
<circle cx="472.7" cy="450.5" r="2.15" fill="#4682b4"/>
<circle cx="468.6" cy="452.6" r="2.15" fill="#4682b4"/>
<circle cx="513.3" cy="441.8" r="2.15" fill="#4682b4"/>
<circle cx="491.7" cy="454.3" r="2.15" fill="#4682b4"/>
<circle cx="499.0" cy="456.4" r="2.15" fill="#4682b4"/>
<circle cx="501.0" cy="457.6" r="2.15" fill="#4682b4"/>
<circle cx="506.2" cy="456.4" r="2.15" fill="#4682b4"/>
<circle cx="514.7" cy="457.6" r="2.15" fill="#4682b4"/>
<circle cx="543.0" cy="417.8" r="2.15" fill="#4682b4"/>
<circle cx="526.4" cy="427.8" r="2.15" fill="#4682b4"/>
<circle cx="601.3" cy="407.2" r="2.15" fill="#4682b4"/>
<circle cx="656.8" cy="415.8" r="2.15" fill="#4682b4"/>
<circle cx="477.7" cy="465.7" r="2.15" fill="#4682b4"/>
<circle cx="476.6" cy="470.8" r="2.15" fill="#4682b4"/>
<circle cx="497.5" cy="464.9" r="2.15" fill="#4682b4"/>
<circle cx="509.5" cy="464.6" r="2.15" fill="#4682b4"/>
<circle cx="576.5" cy="462.3" r="2.15" fill="#4682b4"/>
<circle cx="567.9" cy="472.8" r="2.15" fill="#4682b4"/>
<circle cx="556.1" cy="481.9" r="2.15" fill="#4682b4"/>
<circle cx="558.2" cy="480.6" r="2.15" fill="#4682b4"/>
<circle cx="550.0" cy="488.8" r="2.15" fill="#4682b4"/>
<circle cx="543.6" cy="504.3" r="2.15" fill="#4682b4"/>
<circle cx="512.2" cy="390.9" r="2.15" fill="#ff8c00"/>
<circle cx="570.5" cy="359.8" r="2.15" fill="#ff8c00"/>
<circle cx="573.7" cy="365.1" r="2.15" fill="#ff8c00"/>
<circle cx="577.2" cy="369.2" r="2.15" fill="#ff8c00"/>
<circle cx="568.5" cy="372.4" r="2.15" fill="#ff8c00"/>
<circle cx="550.7" cy="366.4" r="2.15" fill="#ff8c00"/>
<circle cx="553.5" cy="370.1" r="2.15" fill="#ff8c00"/>
<circle cx="557.4" cy="371.9" r="2.15" fill="#ff8c00"/>
<circle cx="550.9" cy="385.6" r="2.15" fill="#ff8c00"/>
<circle cx="546.3" cy="389.0" r="2.15" fill="#ff8c00"/>
<circle cx="590.9" cy="376.8" r="2.15" fill="#ff8c00"/>
<circle cx="591.6" cy="379.5" r="2.15" fill="#ff8c00"/>
<circle cx="591.5" cy="385.0" r="2.15" fill="#ff8c00"/>
<circle cx="594.7" cy="384.4" r="2.15" fill="#ff8c00"/>
<circle cx="522.1" cy="392.3" r="2.15" fill="#ff8c00"/>
<circle cx="530.3" cy="392.6" r="2.15" fill="#ff8c00"/>
<circle cx="524.1" cy="396.6" r="2.15" fill="#ff8c00"/>
<circle cx="548.0" cy="403.4" r="2.15" fill="#ff8c00"/>
<circle cx="557.4" cy="395.5" r="2.15" fill="#ff8c00"/>
<circle cx="581.9" cy="392.3" r="2.15" fill="#ff8c00"/>
<circle cx="584.2" cy="391.5" r="2.15" fill="#ff8c00"/>
<circle cx="574.3" cy="396.6" r="2.15" fill="#ff8c00"/>
<circle cx="576.9" cy="396.0" r="2.15" fill="#ff8c00"/>
<circle cx="588.9" cy="396.6" r="2.15" fill="#ff8c00"/>
<circle cx="593.0" cy="395.8" r="2.15" fill="#ff8c00"/>
<circle cx="594.4" cy="399.0" r="2.15" fill="#ff8c00"/>
<circle cx="600.4" cy="399.9" r="2.15" fill="#ff8c00"/>
<circle cx="608.1" cy="389.4" r="2.15" fill="#ff8c00"/>
<circle cx="614.6" cy="392.8" r="2.15" fill="#ff8c00"/>
<circle cx="625.8" cy="396.1" r="2.15" fill="#ff8c00"/>
<circle cx="626.4" cy="400.8" r="2.15" fill="#ff8c00"/>
<circle cx="619.2" cy="399.6" r="2.15" fill="#ff8c00"/>
<circle cx="614.7" cy="402.1" r="2.15" fill="#ff8c00"/>
<circle cx="610.0" cy="403.8" r="2.15" fill="#ff8c00"/>
<circle cx="635.7" cy="403.3" r="2.15" fill="#ff8c00"/>
<circle cx="625.8" cy="405.1" r="2.15" fill="#ff8c00"/>
<circle cx="513.8" cy="411.3" r="2.15" fill="#ff8c00"/>
<circle cx="520.0" cy="413.1" r="2.15" fill="#ff8c00"/>
<circle cx="488.1" cy="436.2" r="2.15" fill="#ff8c00"/>
<circle cx="513.3" cy="430.1" r="2.15" fill="#ff8c00"/>
<circle cx="515.9" cy="445.9" r="2.15" fill="#ff8c00"/>
<circle cx="496.9" cy="451.2" r="2.15" fill="#ff8c00"/>
<circle cx="490.8" cy="456.4" r="2.15" fill="#ff8c00"/>
<circle cx="563.2" cy="407.9" r="2.15" fill="#ff8c00"/>
<circle cx="571.7" cy="407.2" r="2.15" fill="#ff8c00"/>
<circle cx="556.8" cy="413.1" r="2.15" fill="#ff8c00"/>
<circle cx="550.7" cy="418.9" r="2.15" fill="#ff8c00"/>
<circle cx="557.4" cy="417.8" r="2.15" fill="#ff8c00"/>
<circle cx="561.5" cy="418.3" r="2.15" fill="#ff8c00"/>
<circle cx="557.4" cy="422.4" r="2.15" fill="#ff8c00"/>
<circle cx="562.9" cy="423.6" r="2.15" fill="#ff8c00"/>
<circle cx="568.7" cy="421.0" r="2.15" fill="#ff8c00"/>
<circle cx="567.3" cy="426.3" r="2.15" fill="#ff8c00"/>
<circle cx="584.2" cy="411.3" r="2.15" fill="#ff8c00"/>
<circle cx="587.2" cy="415.5" r="2.15" fill="#ff8c00"/>
<circle cx="589.7" cy="414.6" r="2.15" fill="#ff8c00"/>
<circle cx="590.3" cy="417.3" r="2.15" fill="#ff8c00"/>
<circle cx="595.4" cy="414.6" r="2.15" fill="#ff8c00"/>
<circle cx="592.4" cy="425.7" r="2.15" fill="#ff8c00"/>
<circle cx="596.2" cy="425.6" r="2.15" fill="#ff8c00"/>
<circle cx="599.8" cy="420.9" r="2.15" fill="#ff8c00"/>
<circle cx="552.9" cy="429.4" r="2.15" fill="#ff8c00"/>
<circle cx="554.2" cy="431.5" r="2.15" fill="#ff8c00"/>
<circle cx="558.3" cy="432.1" r="2.15" fill="#ff8c00"/>
<circle cx="560.9" cy="429.4" r="2.15" fill="#ff8c00"/>
<circle cx="573.7" cy="430.4" r="2.15" fill="#ff8c00"/>
<circle cx="578.4" cy="428.3" r="2.15" fill="#ff8c00"/>
<circle cx="596.9" cy="434.8" r="2.15" fill="#ff8c00"/>
<circle cx="545.5" cy="436.8" r="2.15" fill="#ff8c00"/>
<circle cx="550.9" cy="441.5" r="2.15" fill="#ff8c00"/>
<circle cx="559.9" cy="438.5" r="2.15" fill="#ff8c00"/>
<circle cx="565.9" cy="438.0" r="2.15" fill="#ff8c00"/>
<circle cx="558.8" cy="443.4" r="2.15" fill="#ff8c00"/>
<circle cx="578.4" cy="440.9" r="2.15" fill="#ff8c00"/>
<circle cx="595.2" cy="438.9" r="2.15" fill="#ff8c00"/>
<circle cx="598.1" cy="444.1" r="2.15" fill="#ff8c00"/>
<circle cx="525.6" cy="445.9" r="2.15" fill="#ff8c00"/>
<circle cx="529.9" cy="446.7" r="2.15" fill="#ff8c00"/>
<circle cx="528.4" cy="448.8" r="2.15" fill="#ff8c00"/>
<circle cx="553.5" cy="446.7" r="2.15" fill="#ff8c00"/>
<circle cx="571.2" cy="450.0" r="2.15" fill="#ff8c00"/>
<circle cx="578.4" cy="448.7" r="2.15" fill="#ff8c00"/>
<circle cx="593.0" cy="453.7" r="2.15" fill="#ff8c00"/>
<circle cx="587.5" cy="456.6" r="2.15" fill="#ff8c00"/>
<circle cx="523.3" cy="458.4" r="2.15" fill="#ff8c00"/>
<circle cx="620.0" cy="407.2" r="2.15" fill="#ff8c00"/>
<circle cx="609.2" cy="409.9" r="2.15" fill="#ff8c00"/>
<circle cx="650.2" cy="408.5" r="2.15" fill="#ff8c00"/>
<circle cx="662.0" cy="412.1" r="2.15" fill="#ff8c00"/>
<circle cx="664.9" cy="409.9" r="2.15" fill="#ff8c00"/>
<circle cx="602.2" cy="415.1" r="2.15" fill="#ff8c00"/>
<circle cx="603.5" cy="413.8" r="2.15" fill="#ff8c00"/>
<circle cx="608.1" cy="415.1" r="2.15" fill="#ff8c00"/>
<circle cx="627.6" cy="414.2" r="2.15" fill="#ff8c00"/>
<circle cx="629.4" cy="416.0" r="2.15" fill="#ff8c00"/>
<circle cx="631.1" cy="416.4" r="2.15" fill="#ff8c00"/>
<circle cx="648.2" cy="415.1" r="2.15" fill="#ff8c00"/>
<circle cx="666.0" cy="416.4" r="2.15" fill="#ff8c00"/>
<circle cx="669.2" cy="420.4" r="2.15" fill="#ff8c00"/>
<circle cx="601.6" cy="423.6" r="2.15" fill="#ff8c00"/>
<circle cx="608.8" cy="421.0" r="2.15" fill="#ff8c00"/>
<circle cx="620.6" cy="419.7" r="2.15" fill="#ff8c00"/>
<circle cx="624.6" cy="421.0" r="2.15" fill="#ff8c00"/>
<circle cx="628.5" cy="424.3" r="2.15" fill="#ff8c00"/>
<circle cx="633.8" cy="420.4" r="2.15" fill="#ff8c00"/>
<circle cx="662.7" cy="423.7" r="2.15" fill="#ff8c00"/>
<circle cx="607.5" cy="429.6" r="2.15" fill="#ff8c00"/>
<circle cx="632.8" cy="430.2" r="2.15" fill="#ff8c00"/>
<circle cx="643.0" cy="428.0" r="2.15" fill="#ff8c00"/>
<circle cx="657.4" cy="428.0" r="2.15" fill="#ff8c00"/>
<circle cx="661.4" cy="430.2" r="2.15" fill="#ff8c00"/>
<circle cx="602.2" cy="434.4" r="2.15" fill="#ff8c00"/>
<circle cx="603.1" cy="437.4" r="2.15" fill="#ff8c00"/>
<circle cx="607.5" cy="435.5" r="2.15" fill="#ff8c00"/>
<circle cx="610.8" cy="440.1" r="2.15" fill="#ff8c00"/>
<circle cx="634.2" cy="438.1" r="2.15" fill="#ff8c00"/>
<circle cx="637.0" cy="439.4" r="2.15" fill="#ff8c00"/>
<circle cx="639.4" cy="435.7" r="2.15" fill="#ff8c00"/>
<circle cx="641.2" cy="434.8" r="2.15" fill="#ff8c00"/>
<circle cx="601.6" cy="444.7" r="2.15" fill="#ff8c00"/>
<circle cx="609.5" cy="447.3" r="2.15" fill="#ff8c00"/>
<circle cx="614.7" cy="444.0" r="2.15" fill="#ff8c00"/>
<circle cx="649.3" cy="442.0" r="2.15" fill="#ff8c00"/>
<circle cx="650.8" cy="447.3" r="2.15" fill="#ff8c00"/>
<circle cx="652.2" cy="449.9" r="2.15" fill="#ff8c00"/>
<circle cx="628.5" cy="449.3" r="2.15" fill="#ff8c00"/>
<circle cx="630.2" cy="449.3" r="2.15" fill="#ff8c00"/>
<circle cx="508.1" cy="466.3" r="2.15" fill="#ff8c00"/>
<circle cx="508.9" cy="471.0" r="2.15" fill="#ff8c00"/>
<circle cx="514.7" cy="463.2" r="2.15" fill="#ff8c00"/>
<circle cx="585.7" cy="460.5" r="2.15" fill="#ff8c00"/>
<circle cx="575.7" cy="468.3" r="2.15" fill="#ff8c00"/>
<circle cx="571.9" cy="471.0" r="2.15" fill="#ff8c00"/>
<circle cx="583.7" cy="468.9" r="2.15" fill="#ff8c00"/>
<circle cx="592.1" cy="471.0" r="2.15" fill="#ff8c00"/>
<circle cx="571.9" cy="478.8" r="2.15" fill="#ff8c00"/>
<circle cx="575.4" cy="478.3" r="2.15" fill="#ff8c00"/>
<circle cx="597.6" cy="468.3" r="2.15" fill="#ff8c00"/>
<circle cx="605.5" cy="466.5" r="2.15" fill="#ff8c00"/>
<circle cx="578.4" cy="528.7" r="2.15" fill="#228b22"/>
<circle cx="592.3" cy="504.0" r="2.15" fill="#228b22"/>
<circle cx="590.8" cy="508.4" r="2.15" fill="#228b22"/>
<circle cx="598.1" cy="512.0" r="2.15" fill="#228b22"/>
<circle cx="595.9" cy="516.3" r="2.15" fill="#228b22"/>
<circle cx="598.8" cy="515.9" r="2.15" fill="#228b22"/>
<circle cx="599.2" cy="518.1" r="2.15" fill="#228b22"/>
<circle cx="597.0" cy="517.4" r="2.15" fill="#228b22"/>
<circle cx="595.5" cy="525.4" r="2.15" fill="#228b22"/>
<circle cx="579.2" cy="385.0" r="2.15" fill="#dc143c"/>
<circle cx="569.3" cy="445.9" r="2.15" fill="#dc143c"/>
<circle cx="611.8" cy="453.2" r="2.15" fill="#dc143c"/>
<circle cx="516.1" cy="476.8" r="2.15" fill="#dc143c"/>
<circle cx="506.8" cy="514.2" r="2.15" fill="#dc143c"/>
<circle cx="544.2" cy="510.3" r="2.15" fill="#dc143c"/>
<circle cx="544.9" cy="516.2" r="2.15" fill="#dc143c"/>
<circle cx="545.6" cy="521.6" r="2.15" fill="#dc143c"/>
<circle cx="550.1" cy="532.0" r="2.15" fill="#dc143c"/>
<circle cx="544.2" cy="534.6" r="2.15" fill="#dc143c"/>
<circle cx="546.6" cy="535.5" r="2.15" fill="#dc143c"/>
<circle cx="550.8" cy="535.5" r="2.15" fill="#dc143c"/>
<circle cx="549.4" cy="536.8" r="2.15" fill="#dc143c"/>
<circle cx="559.3" cy="536.6" r="2.15" fill="#dc143c"/>
<circle cx="544.9" cy="540.0" r="2.15" fill="#dc143c"/>
<circle cx="547.5" cy="542.9" r="2.15" fill="#dc143c"/>
<circle cx="553.5" cy="543.6" r="2.15" fill="#dc143c"/>
<circle cx="542.9" cy="547.1" r="2.15" fill="#dc143c"/>
<circle cx="548.2" cy="548.6" r="2.15" fill="#dc143c"/>
<circle cx="553.8" cy="551.6" r="2.15" fill="#dc143c"/>
<circle cx="557.2" cy="551.5" r="2.15" fill="#dc143c"/>
<circle cx="560.2" cy="551.5" r="2.15" fill="#dc143c"/>
<circle cx="555.0" cy="555.1" r="2.15" fill="#dc143c"/>
<circle cx="557.2" cy="554.7" r="2.15" fill="#dc143c"/>
<circle cx="546.2" cy="555.0" r="2.15" fill="#dc143c"/>
<circle cx="569.2" cy="554.3" r="2.15" fill="#dc143c"/>
<circle cx="575.1" cy="557.6" r="2.15" fill="#dc143c"/>
<circle cx="562.6" cy="557.6" r="2.15" fill="#dc143c"/>
<circle cx="565.9" cy="559.8" r="2.15" fill="#dc143c"/>
<circle cx="552.6" cy="559.7" r="2.15" fill="#dc143c"/>
<circle cx="558.0" cy="560.4" r="2.15" fill="#dc143c"/>
<circle cx="559.3" cy="562.3" r="2.15" fill="#dc143c"/>
<circle cx="542.3" cy="564.1" r="2.15" fill="#dc143c"/>
<circle cx="548.8" cy="566.7" r="2.15" fill="#dc143c"/>
<circle cx="559.3" cy="567.6" r="2.15" fill="#dc143c"/>
<circle cx="563.5" cy="566.1" r="2.15" fill="#dc143c"/>
<circle cx="551.5" cy="570.7" r="2.15" fill="#dc143c"/>
<circle cx="554.7" cy="572.0" r="2.15" fill="#dc143c"/>
<circle cx="559.5" cy="572.8" r="2.15" fill="#dc143c"/>
<circle cx="556.7" cy="576.9" r="2.15" fill="#dc143c"/>
<circle cx="519.4" cy="384.9" r="2.15" fill="#9370db"/>
<circle cx="504.8" cy="387.3" r="2.15" fill="#9370db"/>
<circle cx="509.5" cy="389.1" r="2.15" fill="#9370db"/>
<circle cx="517.1" cy="389.4" r="2.15" fill="#9370db"/>
<circle cx="506.2" cy="392.6" r="2.15" fill="#9370db"/>
<circle cx="502.7" cy="395.5" r="2.15" fill="#9370db"/>
<circle cx="545.5" cy="357.8" r="2.15" fill="#9370db"/>
<circle cx="561.8" cy="379.1" r="2.15" fill="#9370db"/>
<circle cx="525.3" cy="395.2" r="2.15" fill="#9370db"/>
<circle cx="528.4" cy="399.6" r="2.15" fill="#9370db"/>
<circle cx="539.6" cy="400.1" r="2.15" fill="#9370db"/>
<circle cx="548.0" cy="400.1" r="2.15" fill="#9370db"/>
<circle cx="609.9" cy="375.0" r="2.15" fill="#9370db"/>
<circle cx="609.9" cy="385.6" r="2.15" fill="#9370db"/>
<circle cx="505.4" cy="407.9" r="2.15" fill="#9370db"/>
<circle cx="513.0" cy="417.3" r="2.15" fill="#9370db"/>
<circle cx="504.0" cy="447.3" r="2.15" fill="#9370db"/>
<circle cx="537.5" cy="409.9" r="2.15" fill="#9370db"/>
<circle cx="537.5" cy="416.4" r="2.15" fill="#9370db"/>
<circle cx="528.4" cy="425.3" r="2.15" fill="#9370db"/>
<circle cx="550.1" cy="437.4" r="2.15" fill="#9370db"/>
<circle cx="536.4" cy="447.9" r="2.15" fill="#9370db"/>
<circle cx="636.1" cy="412.5" r="2.15" fill="#9370db"/>
<circle cx="663.1" cy="407.6" r="2.15" fill="#9370db"/>
<circle cx="648.5" cy="424.3" r="2.15" fill="#9370db"/>
<circle cx="620.6" cy="430.2" r="2.15" fill="#9370db"/>
<circle cx="624.6" cy="430.9" r="2.15" fill="#9370db"/>
<circle cx="669.6" cy="430.2" r="2.15" fill="#9370db"/>
<circle cx="653.5" cy="432.8" r="2.15" fill="#9370db"/>
<circle cx="606.8" cy="445.3" r="2.15" fill="#9370db"/>
<circle cx="549.2" cy="485.3" r="2.15" fill="#9370db"/>
<circle cx="544.9" cy="428.8" r="2.15" fill="#8b4513"/>
<circle cx="483.2" cy="472.9" r="2.15" fill="#8b4513"/>
<circle cx="492.3" cy="482.1" r="2.15" fill="#8b4513"/>
<circle cx="485.0" cy="488.6" r="2.15" fill="#8b4513"/>
<circle cx="456.9" cy="491.2" r="2.15" fill="#8b4513"/>
<circle cx="474.5" cy="495.3" r="2.15" fill="#8b4513"/>
<circle cx="487.6" cy="497.9" r="2.15" fill="#8b4513"/>
<circle cx="494.0" cy="497.6" r="2.15" fill="#8b4513"/>
<circle cx="492.3" cy="500.5" r="2.15" fill="#8b4513"/>
<circle cx="507.5" cy="499.1" r="2.15" fill="#8b4513"/>
<circle cx="482.6" cy="500.9" r="2.15" fill="#8b4513"/>
<circle cx="499.0" cy="502.9" r="2.15" fill="#8b4513"/>
<circle cx="464.8" cy="505.0" r="2.15" fill="#8b4513"/>
<circle cx="479.1" cy="504.3" r="2.15" fill="#8b4513"/>
<circle cx="484.4" cy="505.8" r="2.15" fill="#8b4513"/>
<circle cx="470.1" cy="506.0" r="2.15" fill="#8b4513"/>
<circle cx="472.7" cy="508.1" r="2.15" fill="#8b4513"/>
<circle cx="490.8" cy="508.4" r="2.15" fill="#8b4513"/>
<circle cx="463.4" cy="509.7" r="2.15" fill="#8b4513"/>
<circle cx="462.8" cy="511.1" r="2.15" fill="#8b4513"/>
<circle cx="476.8" cy="511.6" r="2.15" fill="#8b4513"/>
<circle cx="481.2" cy="512.0" r="2.15" fill="#8b4513"/>
<circle cx="470.1" cy="514.2" r="2.15" fill="#8b4513"/>
<circle cx="472.7" cy="514.9" r="2.15" fill="#8b4513"/>
<circle cx="479.7" cy="514.6" r="2.15" fill="#8b4513"/>
<circle cx="493.7" cy="514.9" r="2.15" fill="#8b4513"/>
<circle cx="462.8" cy="518.1" r="2.15" fill="#8b4513"/>
<circle cx="469.8" cy="520.8" r="2.15" fill="#8b4513"/>
<circle cx="479.1" cy="519.6" r="2.15" fill="#8b4513"/>
<circle cx="489.6" cy="518.7" r="2.15" fill="#8b4513"/>
<circle cx="480.5" cy="524.3" r="2.15" fill="#8b4513"/>
<circle cx="477.1" cy="526.6" r="2.15" fill="#8b4513"/>
<circle cx="478.3" cy="530.1" r="2.15" fill="#8b4513"/>
<circle cx="470.0" cy="528.6" r="2.15" fill="#8b4513"/>
<circle cx="489.1" cy="529.4" r="2.15" fill="#8b4513"/>
<circle cx="477.1" cy="533.5" r="2.15" fill="#8b4513"/>
<circle cx="473.3" cy="534.7" r="2.15" fill="#8b4513"/>
<rect x="363.5" y="497.6" width="51.89999999999998" height="85.60000000000002" rx="2.5" fill="#fff" fill-opacity="0.8" stroke="#d0d0d0" stroke-width="0.8"/>
<circle cx="375.9" cy="506.20" r="2.0" fill="#4682b4"/>
<text transform="translate(392.3,508.95) scale(0.93,1)" fill="#1a1a1a" font-size="9.3">ACK</text>
<circle cx="375.9" cy="520.05" r="2.0" fill="#ff8c00"/>
<text transform="translate(392.3,522.80) scale(0.93,1)" fill="#1a1a1a" font-size="9.3">BCC</text>
<circle cx="375.9" cy="533.90" r="2.0" fill="#228b22"/>
<text transform="translate(392.3,536.65) scale(0.93,1)" fill="#1a1a1a" font-size="9.3">MEL</text>
<circle cx="375.9" cy="547.75" r="2.0" fill="#dc143c"/>
<text transform="translate(392.3,550.50) scale(0.93,1)" fill="#1a1a1a" font-size="9.3">NEV</text>
<circle cx="375.9" cy="561.60" r="2.0" fill="#9370db"/>
<text transform="translate(392.3,564.35) scale(0.93,1)" fill="#1a1a1a" font-size="9.3">SCC</text>
<circle cx="375.9" cy="575.45" r="2.0" fill="#8b4513"/>
<text transform="translate(392.3,578.20) scale(0.93,1)" fill="#1a1a1a" font-size="9.3">SEK</text>
</svg>
</body></html>
